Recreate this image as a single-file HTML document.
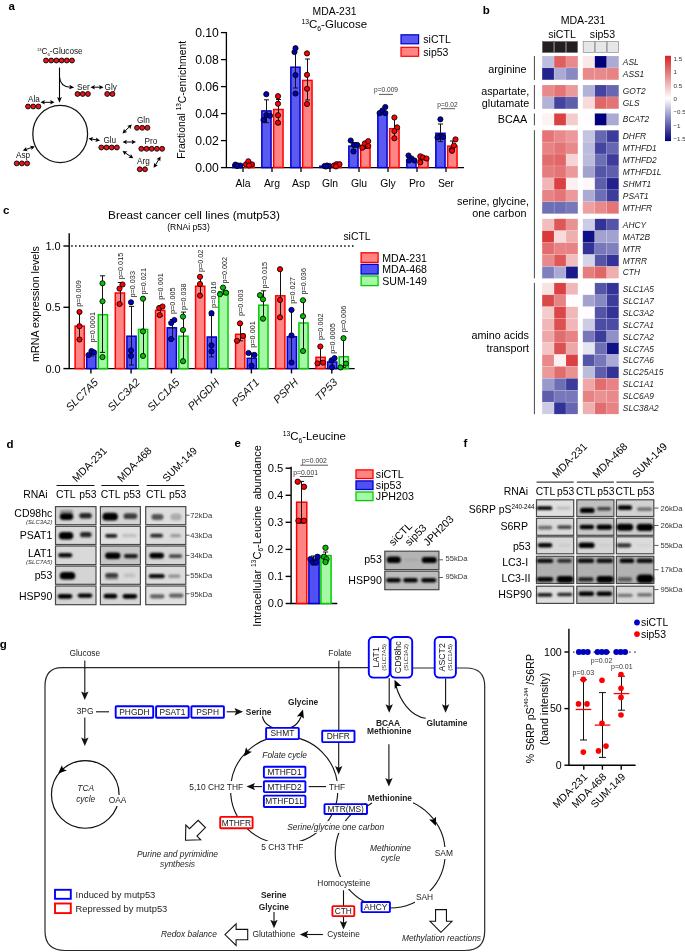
<!DOCTYPE html>
<html><head><meta charset="utf-8"><style>
html,body{margin:0;padding:0;background:#fff;width:685px;height:952px;overflow:hidden}
svg{display:block;will-change:transform}
text{font-family:"Liberation Sans",sans-serif}
</style></head><body>
<svg width="685" height="952" viewBox="0 0 685 952" font-family="Liberation Sans, sans-serif">
<defs><filter id="bl" x="-30%" y="-80%" width="160%" height="260%"><feGaussianBlur stdDeviation="0.95"/></filter></defs>
<text x="8.4" y="9.8" font-size="11.5" font-weight="bold">a</text><text x="37" y="54.2" font-size="8.2" fill="#111"><tspan font-size="4" dy="-3.4">13</tspan><tspan dy="3.4">C</tspan><tspan font-size="4.4" dy="2">6</tspan><tspan dy="-2">-Glucose</tspan></text><circle cx="46.00" cy="60.5" r="2.45" fill="#e8131b" stroke="#000" stroke-width="0.9"/><circle cx="51.20" cy="60.5" r="2.45" fill="#e8131b" stroke="#000" stroke-width="0.9"/><circle cx="56.40" cy="60.5" r="2.45" fill="#e8131b" stroke="#000" stroke-width="0.9"/><circle cx="61.60" cy="60.5" r="2.45" fill="#e8131b" stroke="#000" stroke-width="0.9"/><circle cx="66.80" cy="60.5" r="2.45" fill="#e8131b" stroke="#000" stroke-width="0.9"/><circle cx="72.00" cy="60.5" r="2.45" fill="#e8131b" stroke="#000" stroke-width="0.9"/><path d="M59.5 67.5 V99" stroke="#000" stroke-width="1.1" fill="none"/><path d="M59.50 102.80 L57.10 97.00 L59.50 98.16 L61.90 97.00Z" fill="#000"/><path d="M59.5 77 Q60 86.5 70.5 87.3" stroke="#000" stroke-width="1.1" fill="none"/><path d="M74.20 87.40 L69.02 89.26 L70.22 87.05 L69.42 84.67Z" fill="#000"/><text x="77.00" y="89.51" font-size="8.2" fill="#111">Ser</text><circle cx="77.50" cy="94" r="2.45" fill="#e8131b" stroke="#000" stroke-width="0.9"/><circle cx="82.70" cy="94" r="2.45" fill="#e8131b" stroke="#000" stroke-width="0.9"/><circle cx="87.90" cy="94" r="2.45" fill="#e8131b" stroke="#000" stroke-width="0.9"/><path d="M93.14 87.20 L100.86 87.20" stroke="#000" stroke-width="1.0"/><path d="M103.50 87.20 L99.10 89.50 L99.98 87.20 L99.10 84.90Z" fill="#000"/><path d="M90.50 87.20 L94.90 84.90 L94.02 87.20 L94.90 89.50Z" fill="#000"/><text x="104.60" y="89.51" font-size="8.2" fill="#111">Gly</text><circle cx="107.20" cy="94" r="2.45" fill="#e8131b" stroke="#000" stroke-width="0.9"/><circle cx="112.40" cy="94" r="2.45" fill="#e8131b" stroke="#000" stroke-width="0.9"/><text x="28.00" y="101.51" font-size="8.2" fill="#111">Ala</text><circle cx="28.00" cy="106.5" r="2.45" fill="#e8131b" stroke="#000" stroke-width="0.9"/><circle cx="33.20" cy="106.5" r="2.45" fill="#e8131b" stroke="#000" stroke-width="0.9"/><circle cx="38.40" cy="106.5" r="2.45" fill="#e8131b" stroke="#000" stroke-width="0.9"/><path d="M43.14 102.30 L51.86 102.30" stroke="#000" stroke-width="1.0"/><path d="M54.50 102.30 L50.10 104.60 L50.98 102.30 L50.10 100.00Z" fill="#000"/><path d="M40.50 102.30 L44.90 100.00 L44.02 102.30 L44.90 104.60Z" fill="#000"/><ellipse cx="60.2" cy="133.9" rx="27.4" ry="28.6" fill="none" stroke="#111" stroke-width="1.25"/><path d="M25.29 149.73 L32.31 147.27" stroke="#000" stroke-width="1.0"/><path d="M34.80 146.40 L31.41 150.02 L31.48 147.56 L29.89 145.68Z" fill="#000"/><path d="M22.80 150.60 L26.19 146.98 L26.12 149.44 L27.71 151.32Z" fill="#000"/><text x="16.00" y="157.51" font-size="8.2" fill="#111">Asp</text><circle cx="16.70" cy="163.4" r="2.45" fill="#e8131b" stroke="#000" stroke-width="0.9"/><circle cx="21.90" cy="163.4" r="2.45" fill="#e8131b" stroke="#000" stroke-width="0.9"/><circle cx="27.10" cy="163.4" r="2.45" fill="#e8131b" stroke="#000" stroke-width="0.9"/><path d="M91.10 138.95 L97.40 140.05" stroke="#000" stroke-width="1.0"/><path d="M100.00 140.50 L95.27 142.01 L96.53 139.90 L96.06 137.48Z" fill="#000"/><path d="M88.50 138.50 L93.23 136.99 L91.97 139.10 L92.44 141.52Z" fill="#000"/><text x="103.40" y="143.01" font-size="8.2" fill="#111">Glu</text><circle cx="101.30" cy="147.5" r="2.45" fill="#e8131b" stroke="#000" stroke-width="0.9"/><circle cx="106.50" cy="147.5" r="2.45" fill="#e8131b" stroke="#000" stroke-width="0.9"/><circle cx="111.70" cy="147.5" r="2.45" fill="#e8131b" stroke="#000" stroke-width="0.9"/><circle cx="116.90" cy="147.5" r="2.45" fill="#e8131b" stroke="#000" stroke-width="0.9"/><path d="M124.40 131.66 L129.90 126.34" stroke="#000" stroke-width="1.0"/><path d="M131.80 124.50 L130.24 129.21 L129.27 126.95 L127.04 125.91Z" fill="#000"/><path d="M122.50 133.50 L124.06 128.79 L125.03 131.05 L127.26 132.09Z" fill="#000"/><text x="137.00" y="122.91" font-size="8.2" fill="#111">Gln</text><circle cx="137.00" cy="127.8" r="2.45" fill="#e8131b" stroke="#000" stroke-width="0.9"/><circle cx="142.20" cy="127.8" r="2.45" fill="#e8131b" stroke="#000" stroke-width="0.9"/><circle cx="147.40" cy="127.8" r="2.45" fill="#e8131b" stroke="#000" stroke-width="0.9"/><path d="M125.14 142.00 L133.36 142.00" stroke="#000" stroke-width="1.0"/><path d="M136.00 142.00 L131.60 144.30 L132.48 142.00 L131.60 139.70Z" fill="#000"/><path d="M122.50 142.00 L126.90 139.70 L126.02 142.00 L126.90 144.30Z" fill="#000"/><text x="144.50" y="143.51" font-size="8.2" fill="#111">Pro</text><circle cx="141.30" cy="148.8" r="2.45" fill="#e8131b" stroke="#000" stroke-width="0.9"/><circle cx="146.50" cy="148.8" r="2.45" fill="#e8131b" stroke="#000" stroke-width="0.9"/><circle cx="151.70" cy="148.8" r="2.45" fill="#e8131b" stroke="#000" stroke-width="0.9"/><circle cx="156.90" cy="148.8" r="2.45" fill="#e8131b" stroke="#000" stroke-width="0.9"/><circle cx="162.10" cy="148.8" r="2.45" fill="#e8131b" stroke="#000" stroke-width="0.9"/><path d="M124.69 152.48 L131.11 156.82" stroke="#000" stroke-width="1.0"/><path d="M133.30 158.30 L128.37 157.74 L130.38 156.33 L130.94 153.93Z" fill="#000"/><path d="M122.50 151.00 L127.43 151.56 L125.42 152.97 L124.86 155.37Z" fill="#000"/><text x="137.00" y="163.71" font-size="8.2" fill="#111">Arg</text><circle cx="139.80" cy="169.3" r="2.45" fill="#e8131b" stroke="#000" stroke-width="0.9"/><circle cx="145.00" cy="169.3" r="2.45" fill="#e8131b" stroke="#000" stroke-width="0.9"/><path d="M155.08 165.55 L159.22 158.85" stroke="#000" stroke-width="1.0"/><path d="M160.60 156.60 L160.25 161.55 L158.75 159.60 L156.33 159.14Z" fill="#000"/><path d="M153.70 167.80 L154.05 162.85 L155.55 164.80 L157.97 165.26Z" fill="#000"/><path d="M226.4 32 V167.6 H464" stroke="#000" stroke-width="1.3" fill="none"/><path d="M220.9 167.6 H226.4" stroke="#000" stroke-width="1.3"/><text x="218.90" y="171.93" font-size="12.2" text-anchor="end">0.00</text><path d="M220.9 140.6 H226.4" stroke="#000" stroke-width="1.3"/><text x="218.90" y="144.93" font-size="12.2" text-anchor="end">0.02</text><path d="M220.9 113.6 H226.4" stroke="#000" stroke-width="1.3"/><text x="218.90" y="117.93" font-size="12.2" text-anchor="end">0.04</text><path d="M220.9 86.6 H226.4" stroke="#000" stroke-width="1.3"/><text x="218.90" y="90.93" font-size="12.2" text-anchor="end">0.06</text><path d="M220.9 59.6 H226.4" stroke="#000" stroke-width="1.3"/><text x="218.90" y="63.93" font-size="12.2" text-anchor="end">0.08</text><path d="M220.9 32.6 H226.4" stroke="#000" stroke-width="1.3"/><text x="218.90" y="36.93" font-size="12.2" text-anchor="end">0.10</text><path d="M243 167.6 V172.1" stroke="#000" stroke-width="1.3"/><text x="243.00" y="186.69" font-size="10.4" text-anchor="middle">Ala</text><path d="M272 167.6 V172.1" stroke="#000" stroke-width="1.3"/><text x="272.00" y="186.69" font-size="10.4" text-anchor="middle">Arg</text><path d="M301 167.6 V172.1" stroke="#000" stroke-width="1.3"/><text x="301.00" y="186.69" font-size="10.4" text-anchor="middle">Asp</text><path d="M330 167.6 V172.1" stroke="#000" stroke-width="1.3"/><text x="330.00" y="186.69" font-size="10.4" text-anchor="middle">Gln</text><path d="M359 167.6 V172.1" stroke="#000" stroke-width="1.3"/><text x="359.00" y="186.69" font-size="10.4" text-anchor="middle">Glu</text><path d="M388 167.6 V172.1" stroke="#000" stroke-width="1.3"/><text x="388.00" y="186.69" font-size="10.4" text-anchor="middle">Gly</text><path d="M417 167.6 V172.1" stroke="#000" stroke-width="1.3"/><text x="417.00" y="186.69" font-size="10.4" text-anchor="middle">Pro</text><path d="M446 167.6 V172.1" stroke="#000" stroke-width="1.3"/><text x="446.00" y="186.69" font-size="10.4" text-anchor="middle">Ser</text><rect x="232.85" y="164.9" width="9.2" height="2.7" fill="#5a5af0" stroke="#0000cc" stroke-width="1.5"/><rect x="244.65" y="163.5" width="9.4" height="4.1" fill="#ff8484" stroke="#ff0000" stroke-width="1.5"/><rect x="261.85" y="110.9" width="9.2" height="56.7" fill="#5a5af0" stroke="#0000cc" stroke-width="1.5"/><rect x="273.65" y="109.5" width="9.4" height="58.0" fill="#ff8484" stroke="#ff0000" stroke-width="1.5"/><rect x="290.85" y="67.2" width="9.2" height="100.4" fill="#5a5af0" stroke="#0000cc" stroke-width="1.5"/><rect x="302.65" y="80.4" width="9.4" height="87.2" fill="#ff8484" stroke="#ff0000" stroke-width="1.5"/><rect x="319.85" y="166.2" width="9.2" height="1.3" fill="#5a5af0" stroke="#0000cc" stroke-width="1.5"/><rect x="331.65" y="165.6" width="9.4" height="2.0" fill="#ff8484" stroke="#ff0000" stroke-width="1.5"/><rect x="348.85" y="146.1" width="9.2" height="21.5" fill="#5a5af0" stroke="#0000cc" stroke-width="1.5"/><rect x="360.65" y="145.3" width="9.4" height="22.3" fill="#ff8484" stroke="#ff0000" stroke-width="1.5"/><rect x="377.85" y="114.4" width="9.2" height="53.2" fill="#5a5af0" stroke="#0000cc" stroke-width="1.5"/><rect x="389.65" y="128.7" width="9.4" height="38.9" fill="#ff8484" stroke="#ff0000" stroke-width="1.5"/><rect x="406.85" y="160.2" width="9.2" height="7.4" fill="#5a5af0" stroke="#0000cc" stroke-width="1.5"/><rect x="418.65" y="159.1" width="9.4" height="8.5" fill="#ff8484" stroke="#ff0000" stroke-width="1.5"/><rect x="435.85" y="133.3" width="9.2" height="34.3" fill="#5a5af0" stroke="#0000cc" stroke-width="1.5"/><rect x="447.65" y="146.1" width="9.4" height="21.5" fill="#ff8484" stroke="#ff0000" stroke-width="1.5"/><path d="M266.5 99.8 V122.7 M264.0 99.8 H269.0 M264.0 122.7 H269.0" stroke="#111" stroke-width="1" fill="none"/><path d="M278.5 99.5 V124 M276.0 99.5 H281.0 M276.0 124 H281.0" stroke="#111" stroke-width="1" fill="none"/><path d="M295.5 48.5 V88 M293.0 48.5 H298.0 M293.0 88 H298.0" stroke="#111" stroke-width="1" fill="none"/><path d="M307.5 59 V100 M305.0 59 H310.0 M305.0 100 H310.0" stroke="#111" stroke-width="1" fill="none"/><path d="M394.5 117.5 V138.3 M392.0 117.5 H397.0 M392.0 138.3 H397.0" stroke="#111" stroke-width="1" fill="none"/><path d="M440.5 124 V141.6 M438.0 124 H443.0 M438.0 141.6 H443.0" stroke="#111" stroke-width="1" fill="none"/><path d="M452.5 141 V151 M450.0 141 H455.0 M450.0 151 H455.0" stroke="#111" stroke-width="1" fill="none"/><path d="M353.5 142.5 V149.5 M351.0 142.5 H356.0 M351.0 149.5 H356.0" stroke="#111" stroke-width="1" fill="none"/><path d="M365.5 142.5 V148.5 M363.0 142.5 H368.0 M363.0 148.5 H368.0" stroke="#111" stroke-width="1" fill="none"/><circle cx="235.4" cy="164.6" r="2.6" fill="#0000b4" stroke="#000" stroke-width="0.85"/><circle cx="238" cy="165.5" r="2.6" fill="#0000b4" stroke="#000" stroke-width="0.85"/><circle cx="240.5" cy="165.6" r="2.6" fill="#0000b4" stroke="#000" stroke-width="0.85"/><circle cx="237" cy="166" r="2.6" fill="#0000b4" stroke="#000" stroke-width="0.85"/><circle cx="266.3" cy="94.2" r="2.6" fill="#0000b4" stroke="#000" stroke-width="0.85"/><circle cx="263.5" cy="119.9" r="2.6" fill="#0000b4" stroke="#000" stroke-width="0.85"/><circle cx="266.3" cy="115" r="2.6" fill="#0000b4" stroke="#000" stroke-width="0.85"/><circle cx="270" cy="115.7" r="2.6" fill="#0000b4" stroke="#000" stroke-width="0.85"/><circle cx="294.5" cy="52" r="2.6" fill="#0000b4" stroke="#000" stroke-width="0.85"/><circle cx="295.5" cy="48.2" r="2.6" fill="#0000b4" stroke="#000" stroke-width="0.85"/><circle cx="295.5" cy="75.1" r="2.6" fill="#0000b4" stroke="#000" stroke-width="0.85"/><circle cx="295.5" cy="93.5" r="2.6" fill="#0000b4" stroke="#000" stroke-width="0.85"/><circle cx="324.5" cy="166" r="2.6" fill="#0000b4" stroke="#000" stroke-width="0.85"/><circle cx="327" cy="165.5" r="2.6" fill="#0000b4" stroke="#000" stroke-width="0.85"/><circle cx="329.5" cy="166" r="2.6" fill="#0000b4" stroke="#000" stroke-width="0.85"/><circle cx="326" cy="166.5" r="2.6" fill="#0000b4" stroke="#000" stroke-width="0.85"/><circle cx="350.7" cy="140.5" r="2.6" fill="#0000b4" stroke="#000" stroke-width="0.85"/><circle cx="353.9" cy="144.9" r="2.6" fill="#0000b4" stroke="#000" stroke-width="0.85"/><circle cx="357.2" cy="144.9" r="2.6" fill="#0000b4" stroke="#000" stroke-width="0.85"/><circle cx="353.5" cy="151.5" r="2.6" fill="#0000b4" stroke="#000" stroke-width="0.85"/><circle cx="379.6" cy="113.1" r="2.6" fill="#0000b4" stroke="#000" stroke-width="0.85"/><circle cx="382.4" cy="110.5" r="2.6" fill="#0000b4" stroke="#000" stroke-width="0.85"/><circle cx="385.3" cy="107" r="2.6" fill="#0000b4" stroke="#000" stroke-width="0.85"/><circle cx="385.3" cy="113.1" r="2.6" fill="#0000b4" stroke="#000" stroke-width="0.85"/><circle cx="408.5" cy="155.5" r="2.6" fill="#0000b4" stroke="#000" stroke-width="0.85"/><circle cx="411.5" cy="158.5" r="2.6" fill="#0000b4" stroke="#000" stroke-width="0.85"/><circle cx="414.5" cy="160.5" r="2.6" fill="#0000b4" stroke="#000" stroke-width="0.85"/><circle cx="409" cy="160.5" r="2.6" fill="#0000b4" stroke="#000" stroke-width="0.85"/><circle cx="440.4" cy="119.3" r="2.6" fill="#0000b4" stroke="#000" stroke-width="0.85"/><circle cx="440.4" cy="136.1" r="2.6" fill="#0000b4" stroke="#000" stroke-width="0.85"/><circle cx="443" cy="137" r="2.6" fill="#0000b4" stroke="#000" stroke-width="0.85"/><circle cx="437.5" cy="137.5" r="2.6" fill="#0000b4" stroke="#000" stroke-width="0.85"/><circle cx="246" cy="164.3" r="2.6" fill="#ff0000" stroke="#000" stroke-width="0.85"/><circle cx="248.3" cy="161.3" r="2.6" fill="#ff0000" stroke="#000" stroke-width="0.85"/><circle cx="251.8" cy="164.3" r="2.6" fill="#ff0000" stroke="#000" stroke-width="0.85"/><circle cx="249" cy="165.5" r="2.6" fill="#ff0000" stroke="#000" stroke-width="0.85"/><circle cx="278" cy="96.2" r="2.6" fill="#ff0000" stroke="#000" stroke-width="0.85"/><circle cx="278" cy="103.7" r="2.6" fill="#ff0000" stroke="#000" stroke-width="0.85"/><circle cx="278" cy="115.2" r="2.6" fill="#ff0000" stroke="#000" stroke-width="0.85"/><circle cx="278" cy="122.7" r="2.6" fill="#ff0000" stroke="#000" stroke-width="0.85"/><circle cx="307" cy="53.4" r="2.6" fill="#ff0000" stroke="#000" stroke-width="0.85"/><circle cx="307" cy="74.8" r="2.6" fill="#ff0000" stroke="#000" stroke-width="0.85"/><circle cx="307" cy="88.8" r="2.6" fill="#ff0000" stroke="#000" stroke-width="0.85"/><circle cx="307" cy="104" r="2.6" fill="#ff0000" stroke="#000" stroke-width="0.85"/><circle cx="334" cy="165.5" r="2.6" fill="#ff0000" stroke="#000" stroke-width="0.85"/><circle cx="336.5" cy="164.2" r="2.6" fill="#ff0000" stroke="#000" stroke-width="0.85"/><circle cx="339.5" cy="164.2" r="2.6" fill="#ff0000" stroke="#000" stroke-width="0.85"/><circle cx="336" cy="166.5" r="2.6" fill="#ff0000" stroke="#000" stroke-width="0.85"/><circle cx="362.3" cy="147.7" r="2.6" fill="#ff0000" stroke="#000" stroke-width="0.85"/><circle cx="364.9" cy="143.4" r="2.6" fill="#ff0000" stroke="#000" stroke-width="0.85"/><circle cx="368.2" cy="141.2" r="2.6" fill="#ff0000" stroke="#000" stroke-width="0.85"/><circle cx="368.2" cy="146" r="2.6" fill="#ff0000" stroke="#000" stroke-width="0.85"/><circle cx="394.4" cy="117.5" r="2.6" fill="#ff0000" stroke="#000" stroke-width="0.85"/><circle cx="397.1" cy="127.4" r="2.6" fill="#ff0000" stroke="#000" stroke-width="0.85"/><circle cx="394.4" cy="131.1" r="2.6" fill="#ff0000" stroke="#000" stroke-width="0.85"/><circle cx="394.4" cy="138.3" r="2.6" fill="#ff0000" stroke="#000" stroke-width="0.85"/><circle cx="420.3" cy="156.3" r="2.6" fill="#ff0000" stroke="#000" stroke-width="0.85"/><circle cx="423" cy="157.5" r="2.6" fill="#ff0000" stroke="#000" stroke-width="0.85"/><circle cx="426.5" cy="158.5" r="2.6" fill="#ff0000" stroke="#000" stroke-width="0.85"/><circle cx="420.3" cy="162.4" r="2.6" fill="#ff0000" stroke="#000" stroke-width="0.85"/><circle cx="452" cy="149.3" r="2.6" fill="#ff0000" stroke="#000" stroke-width="0.85"/><circle cx="454" cy="145.5" r="2.6" fill="#ff0000" stroke="#000" stroke-width="0.85"/><circle cx="455.5" cy="139.4" r="2.6" fill="#ff0000" stroke="#000" stroke-width="0.85"/><circle cx="452" cy="150.8" r="2.6" fill="#ff0000" stroke="#000" stroke-width="0.85"/><text x="386.00" y="91.94" font-size="6.6" text-anchor="middle" fill="#333">p=0.009</text><path d="M379 94.4 H393" stroke="#333" stroke-width="0.8"/><text x="447.50" y="106.64" font-size="6.6" text-anchor="middle" fill="#333">p=0.02</text><path d="M441 108.7 H455" stroke="#333" stroke-width="0.8"/><text x="334.50" y="14.89" font-size="10.4" text-anchor="middle">MDA-231</text><text x="334.3" y="28" font-size="11.5" text-anchor="middle"><tspan font-size="6.8" dy="-4.4">13</tspan><tspan dy="4.4">C</tspan><tspan font-size="6.8" dy="2.7">6</tspan><tspan dy="-2.7">-Glucose</tspan></text><rect x="401" y="34.8" width="17.6" height="9" fill="#5a5af0" stroke="#0000cc" stroke-width="1.2"/><rect x="401" y="47.3" width="17.6" height="9" fill="#ff8484" stroke="#ff0000" stroke-width="1.2"/><text x="423.30" y="43.13" font-size="10.5">siCTL</text><text x="423.30" y="55.53" font-size="10.5">sip53</text><text transform="translate(181.8,99.8) rotate(-90)" font-size="10.4" text-anchor="middle" dominant-baseline="central">Fractional <tspan font-size="6.4" dy="-3.8">13</tspan><tspan dy="3.8">C-enrichment</tspan></text><text x="482.7" y="14" font-size="11.5" font-weight="bold">b</text><text x="583.00" y="24.16" font-size="10.6" text-anchor="middle">MDA-231</text><text x="562.00" y="37.66" font-size="10.6" text-anchor="middle">siCTL</text><text x="602.50" y="37.66" font-size="10.6" text-anchor="middle">sip53</text><rect x="542.5" y="41.6" width="11.2" height="10.8" fill="#231f20" stroke="#555" stroke-width="0.6"/><rect x="583.1999999999999" y="41.6" width="11.2" height="10.8" fill="#e6e7e8" stroke="#8a8a8a" stroke-width="0.7"/><rect x="554.5" y="41.6" width="11.099999999999977" height="10.8" fill="#231f20" stroke="#555" stroke-width="0.6"/><rect x="595.1999999999999" y="41.6" width="11.2" height="10.8" fill="#e6e7e8" stroke="#8a8a8a" stroke-width="0.7"/><rect x="566.4" y="41.6" width="11.099999999999977" height="10.8" fill="#231f20" stroke="#555" stroke-width="0.6"/><rect x="607.1999999999999" y="41.6" width="11.2" height="10.8" fill="#e6e7e8" stroke="#8a8a8a" stroke-width="0.7"/><rect x="542.1" y="56.00" width="12.0" height="11.93" fill="rgb(190,190,222)" stroke="#fff" stroke-opacity="0.25" stroke-width="0.5"/><rect x="582.8" y="56.00" width="12.0" height="11.93" fill="rgb(251,233,233)" stroke="#fff" stroke-opacity="0.25" stroke-width="0.5"/><rect x="554.1" y="56.00" width="11.9" height="11.93" fill="rgb(223,94,96)" stroke="#fff" stroke-opacity="0.25" stroke-width="0.5"/><rect x="594.8" y="56.00" width="12.0" height="11.93" fill="rgb(0,0,125)" stroke="#fff" stroke-opacity="0.25" stroke-width="0.5"/><rect x="566.0" y="56.00" width="11.9" height="11.93" fill="rgb(232,138,139)" stroke="#fff" stroke-opacity="0.25" stroke-width="0.5"/><rect x="606.8" y="56.00" width="12.0" height="11.93" fill="rgb(170,170,212)" stroke="#fff" stroke-opacity="0.25" stroke-width="0.5"/><text x="622.80" y="64.95" font-size="8.4" font-style="italic" fill="#222">ASL</text><rect x="542.1" y="67.93" width="12.0" height="11.93" fill="rgb(34,34,142)" stroke="#fff" stroke-opacity="0.25" stroke-width="0.5"/><rect x="582.8" y="67.93" width="12.0" height="11.93" fill="rgb(232,138,139)" stroke="#fff" stroke-opacity="0.25" stroke-width="0.5"/><rect x="554.1" y="67.93" width="11.9" height="11.93" fill="rgb(170,170,212)" stroke="#fff" stroke-opacity="0.25" stroke-width="0.5"/><rect x="594.8" y="67.93" width="12.0" height="11.93" fill="rgb(232,138,139)" stroke="#fff" stroke-opacity="0.25" stroke-width="0.5"/><rect x="566.0" y="67.93" width="11.9" height="11.93" fill="rgb(136,136,194)" stroke="#fff" stroke-opacity="0.25" stroke-width="0.5"/><rect x="606.8" y="67.93" width="12.0" height="11.93" fill="rgb(231,131,132)" stroke="#fff" stroke-opacity="0.25" stroke-width="0.5"/><text x="622.80" y="76.88" font-size="8.4" font-style="italic" fill="#222">ASS1</text><rect x="542.1" y="85.00" width="12.0" height="11.93" fill="rgb(232,138,139)" stroke="#fff" stroke-opacity="0.25" stroke-width="0.5"/><rect x="582.8" y="85.00" width="12.0" height="11.93" fill="rgb(178,178,216)" stroke="#fff" stroke-opacity="0.25" stroke-width="0.5"/><rect x="554.1" y="85.00" width="11.9" height="11.93" fill="rgb(228,116,118)" stroke="#fff" stroke-opacity="0.25" stroke-width="0.5"/><rect x="594.8" y="85.00" width="12.0" height="11.93" fill="rgb(68,68,160)" stroke="#fff" stroke-opacity="0.25" stroke-width="0.5"/><rect x="566.0" y="85.00" width="11.9" height="11.93" fill="rgb(235,153,154)" stroke="#fff" stroke-opacity="0.25" stroke-width="0.5"/><rect x="606.8" y="85.00" width="12.0" height="11.93" fill="rgb(102,102,177)" stroke="#fff" stroke-opacity="0.25" stroke-width="0.5"/><text x="622.80" y="93.95" font-size="8.4" font-style="italic" fill="#222">GOT2</text><rect x="542.1" y="96.93" width="12.0" height="11.93" fill="rgb(178,178,216)" stroke="#fff" stroke-opacity="0.25" stroke-width="0.5"/><rect x="582.8" y="96.93" width="12.0" height="11.93" fill="rgb(248,218,219)" stroke="#fff" stroke-opacity="0.25" stroke-width="0.5"/><rect x="554.1" y="96.93" width="11.9" height="11.93" fill="rgb(68,68,160)" stroke="#fff" stroke-opacity="0.25" stroke-width="0.5"/><rect x="594.8" y="96.93" width="12.0" height="11.93" fill="rgb(225,102,103)" stroke="#fff" stroke-opacity="0.25" stroke-width="0.5"/><rect x="566.0" y="96.93" width="11.9" height="11.93" fill="rgb(94,94,173)" stroke="#fff" stroke-opacity="0.25" stroke-width="0.5"/><rect x="606.8" y="96.93" width="12.0" height="11.93" fill="rgb(228,116,118)" stroke="#fff" stroke-opacity="0.25" stroke-width="0.5"/><text x="622.80" y="105.88" font-size="8.4" font-style="italic" fill="#222">GLS</text><rect x="542.1" y="113.40" width="12.0" height="11.93" fill="rgb(253,243,243)" stroke="#fff" stroke-opacity="0.25" stroke-width="0.5"/><rect x="582.8" y="113.40" width="12.0" height="11.93" fill="rgb(254,252,252)" stroke="#fff" stroke-opacity="0.25" stroke-width="0.5"/><rect x="554.1" y="113.40" width="11.9" height="11.93" fill="rgb(218,65,67)" stroke="#fff" stroke-opacity="0.25" stroke-width="0.5"/><rect x="594.8" y="113.40" width="12.0" height="11.93" fill="rgb(0,0,125)" stroke="#fff" stroke-opacity="0.25" stroke-width="0.5"/><rect x="566.0" y="113.40" width="11.9" height="11.93" fill="rgb(245,204,204)" stroke="#fff" stroke-opacity="0.25" stroke-width="0.5"/><rect x="606.8" y="113.40" width="12.0" height="11.93" fill="rgb(170,170,212)" stroke="#fff" stroke-opacity="0.25" stroke-width="0.5"/><text x="622.80" y="122.35" font-size="8.4" font-style="italic" fill="#222">BCAT2</text><rect x="542.1" y="130.20" width="12.0" height="11.93" fill="rgb(228,116,118)" stroke="#fff" stroke-opacity="0.25" stroke-width="0.5"/><rect x="582.8" y="130.20" width="12.0" height="11.93" fill="rgb(196,196,225)" stroke="#fff" stroke-opacity="0.25" stroke-width="0.5"/><rect x="554.1" y="130.20" width="11.9" height="11.93" fill="rgb(232,138,139)" stroke="#fff" stroke-opacity="0.25" stroke-width="0.5"/><rect x="594.8" y="130.20" width="12.0" height="11.93" fill="rgb(102,102,177)" stroke="#fff" stroke-opacity="0.25" stroke-width="0.5"/><rect x="566.0" y="130.20" width="11.9" height="11.93" fill="rgb(235,153,154)" stroke="#fff" stroke-opacity="0.25" stroke-width="0.5"/><rect x="606.8" y="130.20" width="12.0" height="11.93" fill="rgb(60,60,155)" stroke="#fff" stroke-opacity="0.25" stroke-width="0.5"/><text x="622.80" y="139.15" font-size="8.4" font-style="italic" fill="#222">DHFR</text><rect x="542.1" y="142.13" width="12.0" height="11.93" fill="rgb(231,131,132)" stroke="#fff" stroke-opacity="0.25" stroke-width="0.5"/><rect x="582.8" y="142.13" width="12.0" height="11.93" fill="rgb(187,187,220)" stroke="#fff" stroke-opacity="0.25" stroke-width="0.5"/><rect x="554.1" y="142.13" width="11.9" height="11.93" fill="rgb(228,116,118)" stroke="#fff" stroke-opacity="0.25" stroke-width="0.5"/><rect x="594.8" y="142.13" width="12.0" height="11.93" fill="rgb(68,68,160)" stroke="#fff" stroke-opacity="0.25" stroke-width="0.5"/><rect x="566.0" y="142.13" width="11.9" height="11.93" fill="rgb(232,138,139)" stroke="#fff" stroke-opacity="0.25" stroke-width="0.5"/><rect x="606.8" y="142.13" width="12.0" height="11.93" fill="rgb(102,102,177)" stroke="#fff" stroke-opacity="0.25" stroke-width="0.5"/><text x="622.80" y="151.08" font-size="8.4" font-style="italic" fill="#222">MTHFD1</text><rect x="542.1" y="154.06" width="12.0" height="11.93" fill="rgb(226,109,110)" stroke="#fff" stroke-opacity="0.25" stroke-width="0.5"/><rect x="582.8" y="154.06" width="12.0" height="11.93" fill="rgb(187,187,220)" stroke="#fff" stroke-opacity="0.25" stroke-width="0.5"/><rect x="554.1" y="154.06" width="11.9" height="11.93" fill="rgb(225,102,103)" stroke="#fff" stroke-opacity="0.25" stroke-width="0.5"/><rect x="594.8" y="154.06" width="12.0" height="11.93" fill="rgb(110,110,181)" stroke="#fff" stroke-opacity="0.25" stroke-width="0.5"/><rect x="566.0" y="154.06" width="11.9" height="11.93" fill="rgb(246,211,212)" stroke="#fff" stroke-opacity="0.25" stroke-width="0.5"/><rect x="606.8" y="154.06" width="12.0" height="11.93" fill="rgb(60,60,155)" stroke="#fff" stroke-opacity="0.25" stroke-width="0.5"/><text x="622.80" y="163.01" font-size="8.4" font-style="italic" fill="#222">MTHFD2</text><rect x="542.1" y="165.99" width="12.0" height="11.93" fill="rgb(229,124,125)" stroke="#fff" stroke-opacity="0.25" stroke-width="0.5"/><rect x="582.8" y="165.99" width="12.0" height="11.93" fill="rgb(162,162,207)" stroke="#fff" stroke-opacity="0.25" stroke-width="0.5"/><rect x="554.1" y="165.99" width="11.9" height="11.93" fill="rgb(228,116,118)" stroke="#fff" stroke-opacity="0.25" stroke-width="0.5"/><rect x="594.8" y="165.99" width="12.0" height="11.93" fill="rgb(85,85,168)" stroke="#fff" stroke-opacity="0.25" stroke-width="0.5"/><rect x="566.0" y="165.99" width="11.9" height="11.93" fill="rgb(235,153,154)" stroke="#fff" stroke-opacity="0.25" stroke-width="0.5"/><rect x="606.8" y="165.99" width="12.0" height="11.93" fill="rgb(94,94,173)" stroke="#fff" stroke-opacity="0.25" stroke-width="0.5"/><text x="622.80" y="174.94" font-size="8.4" font-style="italic" fill="#222">MTHFD1L</text><rect x="542.1" y="177.92" width="12.0" height="11.93" fill="rgb(241,182,183)" stroke="#fff" stroke-opacity="0.25" stroke-width="0.5"/><rect x="582.8" y="177.92" width="12.0" height="11.93" fill="rgb(254,248,248)" stroke="#fff" stroke-opacity="0.25" stroke-width="0.5"/><rect x="554.1" y="177.92" width="11.9" height="11.93" fill="rgb(218,65,67)" stroke="#fff" stroke-opacity="0.25" stroke-width="0.5"/><rect x="594.8" y="177.92" width="12.0" height="11.93" fill="rgb(94,94,173)" stroke="#fff" stroke-opacity="0.25" stroke-width="0.5"/><rect x="566.0" y="177.92" width="11.9" height="11.93" fill="rgb(252,240,241)" stroke="#fff" stroke-opacity="0.25" stroke-width="0.5"/><rect x="606.8" y="177.92" width="12.0" height="11.93" fill="rgb(34,34,142)" stroke="#fff" stroke-opacity="0.25" stroke-width="0.5"/><text x="622.80" y="186.87" font-size="8.4" font-style="italic" fill="#222">SHMT1</text><rect x="542.1" y="189.85" width="12.0" height="11.93" fill="rgb(231,131,132)" stroke="#fff" stroke-opacity="0.25" stroke-width="0.5"/><rect x="582.8" y="189.85" width="12.0" height="11.93" fill="rgb(170,170,212)" stroke="#fff" stroke-opacity="0.25" stroke-width="0.5"/><rect x="554.1" y="189.85" width="11.9" height="11.93" fill="rgb(228,116,118)" stroke="#fff" stroke-opacity="0.25" stroke-width="0.5"/><rect x="594.8" y="189.85" width="12.0" height="11.93" fill="rgb(110,110,181)" stroke="#fff" stroke-opacity="0.25" stroke-width="0.5"/><rect x="566.0" y="189.85" width="11.9" height="11.93" fill="rgb(235,153,154)" stroke="#fff" stroke-opacity="0.25" stroke-width="0.5"/><rect x="606.8" y="189.85" width="12.0" height="11.93" fill="rgb(60,60,155)" stroke="#fff" stroke-opacity="0.25" stroke-width="0.5"/><text x="622.80" y="198.80" font-size="8.4" font-style="italic" fill="#222">PSAT1</text><rect x="542.1" y="201.78" width="12.0" height="11.93" fill="rgb(110,110,181)" stroke="#fff" stroke-opacity="0.25" stroke-width="0.5"/><rect x="582.8" y="201.78" width="12.0" height="11.93" fill="rgb(236,160,161)" stroke="#fff" stroke-opacity="0.25" stroke-width="0.5"/><rect x="554.1" y="201.78" width="11.9" height="11.93" fill="rgb(110,110,181)" stroke="#fff" stroke-opacity="0.25" stroke-width="0.5"/><rect x="594.8" y="201.78" width="12.0" height="11.93" fill="rgb(232,138,139)" stroke="#fff" stroke-opacity="0.25" stroke-width="0.5"/><rect x="566.0" y="201.78" width="11.9" height="11.93" fill="rgb(119,119,186)" stroke="#fff" stroke-opacity="0.25" stroke-width="0.5"/><rect x="606.8" y="201.78" width="12.0" height="11.93" fill="rgb(228,116,118)" stroke="#fff" stroke-opacity="0.25" stroke-width="0.5"/><text x="622.80" y="210.73" font-size="8.4" font-style="italic" fill="#222">MTHFR</text><rect x="542.1" y="218.80" width="12.0" height="11.93" fill="rgb(242,189,190)" stroke="#fff" stroke-opacity="0.25" stroke-width="0.5"/><rect x="582.8" y="218.80" width="12.0" height="11.93" fill="rgb(204,204,229)" stroke="#fff" stroke-opacity="0.25" stroke-width="0.5"/><rect x="554.1" y="218.80" width="11.9" height="11.93" fill="rgb(222,87,89)" stroke="#fff" stroke-opacity="0.25" stroke-width="0.5"/><rect x="594.8" y="218.80" width="12.0" height="11.93" fill="rgb(51,51,151)" stroke="#fff" stroke-opacity="0.25" stroke-width="0.5"/><rect x="566.0" y="218.80" width="11.9" height="11.93" fill="rgb(234,146,146)" stroke="#fff" stroke-opacity="0.25" stroke-width="0.5"/><rect x="606.8" y="218.80" width="12.0" height="11.93" fill="rgb(85,85,168)" stroke="#fff" stroke-opacity="0.25" stroke-width="0.5"/><text x="622.80" y="227.75" font-size="8.4" font-style="italic" fill="#222">AHCY</text><rect x="542.1" y="230.73" width="12.0" height="11.93" fill="rgb(216,58,60)" stroke="#fff" stroke-opacity="0.25" stroke-width="0.5"/><rect x="582.8" y="230.73" width="12.0" height="11.93" fill="rgb(17,17,134)" stroke="#fff" stroke-opacity="0.25" stroke-width="0.5"/><rect x="554.1" y="230.73" width="11.9" height="11.93" fill="rgb(248,218,219)" stroke="#fff" stroke-opacity="0.25" stroke-width="0.5"/><rect x="594.8" y="230.73" width="12.0" height="11.93" fill="rgb(162,162,207)" stroke="#fff" stroke-opacity="0.25" stroke-width="0.5"/><rect x="566.0" y="230.73" width="11.9" height="11.93" fill="rgb(239,175,175)" stroke="#fff" stroke-opacity="0.25" stroke-width="0.5"/><rect x="606.8" y="230.73" width="12.0" height="11.93" fill="rgb(162,162,207)" stroke="#fff" stroke-opacity="0.25" stroke-width="0.5"/><text x="622.80" y="239.68" font-size="8.4" font-style="italic" fill="#222">MAT2B</text><rect x="542.1" y="242.66" width="12.0" height="11.93" fill="rgb(226,109,110)" stroke="#fff" stroke-opacity="0.25" stroke-width="0.5"/><rect x="582.8" y="242.66" width="12.0" height="11.93" fill="rgb(51,51,151)" stroke="#fff" stroke-opacity="0.25" stroke-width="0.5"/><rect x="554.1" y="242.66" width="11.9" height="11.93" fill="rgb(231,131,132)" stroke="#fff" stroke-opacity="0.25" stroke-width="0.5"/><rect x="594.8" y="242.66" width="12.0" height="11.93" fill="rgb(119,119,186)" stroke="#fff" stroke-opacity="0.25" stroke-width="0.5"/><rect x="566.0" y="242.66" width="11.9" height="11.93" fill="rgb(231,131,132)" stroke="#fff" stroke-opacity="0.25" stroke-width="0.5"/><rect x="606.8" y="242.66" width="12.0" height="11.93" fill="rgb(128,128,190)" stroke="#fff" stroke-opacity="0.25" stroke-width="0.5"/><text x="622.80" y="251.61" font-size="8.4" font-style="italic" fill="#222">MTR</text><rect x="542.1" y="254.59" width="12.0" height="11.93" fill="rgb(232,138,139)" stroke="#fff" stroke-opacity="0.25" stroke-width="0.5"/><rect x="582.8" y="254.59" width="12.0" height="11.93" fill="rgb(212,212,233)" stroke="#fff" stroke-opacity="0.25" stroke-width="0.5"/><rect x="554.1" y="254.59" width="11.9" height="11.93" fill="rgb(222,87,89)" stroke="#fff" stroke-opacity="0.25" stroke-width="0.5"/><rect x="594.8" y="254.59" width="12.0" height="11.93" fill="rgb(85,85,168)" stroke="#fff" stroke-opacity="0.25" stroke-width="0.5"/><rect x="566.0" y="254.59" width="11.9" height="11.93" fill="rgb(242,189,190)" stroke="#fff" stroke-opacity="0.25" stroke-width="0.5"/><rect x="606.8" y="254.59" width="12.0" height="11.93" fill="rgb(51,51,151)" stroke="#fff" stroke-opacity="0.25" stroke-width="0.5"/><text x="622.80" y="263.54" font-size="8.4" font-style="italic" fill="#222">MTRR</text><rect x="542.1" y="266.52" width="12.0" height="11.93" fill="rgb(128,128,190)" stroke="#fff" stroke-opacity="0.25" stroke-width="0.5"/><rect x="582.8" y="266.52" width="12.0" height="11.93" fill="rgb(229,124,125)" stroke="#fff" stroke-opacity="0.25" stroke-width="0.5"/><rect x="554.1" y="266.52" width="11.9" height="11.93" fill="rgb(170,170,212)" stroke="#fff" stroke-opacity="0.25" stroke-width="0.5"/><rect x="594.8" y="266.52" width="12.0" height="11.93" fill="rgb(225,102,103)" stroke="#fff" stroke-opacity="0.25" stroke-width="0.5"/><rect x="566.0" y="266.52" width="11.9" height="11.93" fill="rgb(26,26,138)" stroke="#fff" stroke-opacity="0.25" stroke-width="0.5"/><rect x="606.8" y="266.52" width="12.0" height="11.93" fill="rgb(239,175,175)" stroke="#fff" stroke-opacity="0.25" stroke-width="0.5"/><text x="622.80" y="275.47" font-size="8.4" font-style="italic" fill="#222">CTH</text><rect x="542.1" y="282.90" width="12.0" height="11.93" fill="rgb(249,226,226)" stroke="#fff" stroke-opacity="0.25" stroke-width="0.5"/><rect x="582.8" y="282.90" width="12.0" height="11.93" fill="rgb(254,252,252)" stroke="#fff" stroke-opacity="0.25" stroke-width="0.5"/><rect x="554.1" y="282.90" width="11.9" height="11.93" fill="rgb(218,65,67)" stroke="#fff" stroke-opacity="0.25" stroke-width="0.5"/><rect x="594.8" y="282.90" width="12.0" height="11.93" fill="rgb(85,85,168)" stroke="#fff" stroke-opacity="0.25" stroke-width="0.5"/><rect x="566.0" y="282.90" width="11.9" height="11.93" fill="rgb(241,182,183)" stroke="#fff" stroke-opacity="0.25" stroke-width="0.5"/><rect x="606.8" y="282.90" width="12.0" height="11.93" fill="rgb(51,51,151)" stroke="#fff" stroke-opacity="0.25" stroke-width="0.5"/><text x="622.80" y="291.85" font-size="8.4" font-style="italic" fill="#222">SLC1A5</text><rect x="542.1" y="294.83" width="12.0" height="11.93" fill="rgb(219,72,74)" stroke="#fff" stroke-opacity="0.25" stroke-width="0.5"/><rect x="582.8" y="294.83" width="12.0" height="11.93" fill="rgb(162,162,207)" stroke="#fff" stroke-opacity="0.25" stroke-width="0.5"/><rect x="554.1" y="294.83" width="11.9" height="11.93" fill="rgb(231,131,132)" stroke="#fff" stroke-opacity="0.25" stroke-width="0.5"/><rect x="594.8" y="294.83" width="12.0" height="11.93" fill="rgb(136,136,194)" stroke="#fff" stroke-opacity="0.25" stroke-width="0.5"/><rect x="566.0" y="294.83" width="11.9" height="11.93" fill="rgb(254,252,252)" stroke="#fff" stroke-opacity="0.25" stroke-width="0.5"/><rect x="606.8" y="294.83" width="12.0" height="11.93" fill="rgb(60,60,155)" stroke="#fff" stroke-opacity="0.25" stroke-width="0.5"/><text x="622.80" y="303.78" font-size="8.4" font-style="italic" fill="#222">SLC1A7</text><rect x="542.1" y="306.76" width="12.0" height="11.93" fill="rgb(245,204,204)" stroke="#fff" stroke-opacity="0.25" stroke-width="0.5"/><rect x="582.8" y="306.76" width="12.0" height="11.93" fill="rgb(254,252,252)" stroke="#fff" stroke-opacity="0.25" stroke-width="0.5"/><rect x="554.1" y="306.76" width="11.9" height="11.93" fill="rgb(219,72,74)" stroke="#fff" stroke-opacity="0.25" stroke-width="0.5"/><rect x="594.8" y="306.76" width="12.0" height="11.93" fill="rgb(85,85,168)" stroke="#fff" stroke-opacity="0.25" stroke-width="0.5"/><rect x="566.0" y="306.76" width="11.9" height="11.93" fill="rgb(241,182,183)" stroke="#fff" stroke-opacity="0.25" stroke-width="0.5"/><rect x="606.8" y="306.76" width="12.0" height="11.93" fill="rgb(51,51,151)" stroke="#fff" stroke-opacity="0.25" stroke-width="0.5"/><text x="622.80" y="315.71" font-size="8.4" font-style="italic" fill="#222">SLC3A2</text><rect x="542.1" y="318.69" width="12.0" height="11.93" fill="rgb(241,182,183)" stroke="#fff" stroke-opacity="0.25" stroke-width="0.5"/><rect x="582.8" y="318.69" width="12.0" height="11.93" fill="rgb(204,204,229)" stroke="#fff" stroke-opacity="0.25" stroke-width="0.5"/><rect x="554.1" y="318.69" width="11.9" height="11.93" fill="rgb(221,80,81)" stroke="#fff" stroke-opacity="0.25" stroke-width="0.5"/><rect x="594.8" y="318.69" width="12.0" height="11.93" fill="rgb(76,76,164)" stroke="#fff" stroke-opacity="0.25" stroke-width="0.5"/><rect x="566.0" y="318.69" width="11.9" height="11.93" fill="rgb(241,182,183)" stroke="#fff" stroke-opacity="0.25" stroke-width="0.5"/><rect x="606.8" y="318.69" width="12.0" height="11.93" fill="rgb(76,76,164)" stroke="#fff" stroke-opacity="0.25" stroke-width="0.5"/><text x="622.80" y="327.64" font-size="8.4" font-style="italic" fill="#222">SLC7A1</text><rect x="542.1" y="330.62" width="12.0" height="11.93" fill="rgb(238,167,168)" stroke="#fff" stroke-opacity="0.25" stroke-width="0.5"/><rect x="582.8" y="330.62" width="12.0" height="11.93" fill="rgb(119,119,186)" stroke="#fff" stroke-opacity="0.25" stroke-width="0.5"/><rect x="554.1" y="330.62" width="11.9" height="11.93" fill="rgb(226,109,110)" stroke="#fff" stroke-opacity="0.25" stroke-width="0.5"/><rect x="594.8" y="330.62" width="12.0" height="11.93" fill="rgb(60,60,155)" stroke="#fff" stroke-opacity="0.25" stroke-width="0.5"/><rect x="566.0" y="330.62" width="11.9" height="11.93" fill="rgb(231,131,132)" stroke="#fff" stroke-opacity="0.25" stroke-width="0.5"/><rect x="606.8" y="330.62" width="12.0" height="11.93" fill="rgb(144,144,199)" stroke="#fff" stroke-opacity="0.25" stroke-width="0.5"/><text x="622.80" y="339.57" font-size="8.4" font-style="italic" fill="#222">SLC7A2</text><rect x="542.1" y="342.55" width="12.0" height="11.93" fill="rgb(244,197,197)" stroke="#fff" stroke-opacity="0.25" stroke-width="0.5"/><rect x="582.8" y="342.55" width="12.0" height="11.93" fill="rgb(230,230,242)" stroke="#fff" stroke-opacity="0.25" stroke-width="0.5"/><rect x="554.1" y="342.55" width="11.9" height="11.93" fill="rgb(221,80,81)" stroke="#fff" stroke-opacity="0.25" stroke-width="0.5"/><rect x="594.8" y="342.55" width="12.0" height="11.93" fill="rgb(110,110,181)" stroke="#fff" stroke-opacity="0.25" stroke-width="0.5"/><rect x="566.0" y="342.55" width="11.9" height="11.93" fill="rgb(238,167,168)" stroke="#fff" stroke-opacity="0.25" stroke-width="0.5"/><rect x="606.8" y="342.55" width="12.0" height="11.93" fill="rgb(17,17,134)" stroke="#fff" stroke-opacity="0.25" stroke-width="0.5"/><text x="622.80" y="351.50" font-size="8.4" font-style="italic" fill="#222">SLC7A5</text><rect x="542.1" y="354.48" width="12.0" height="11.93" fill="rgb(232,138,139)" stroke="#fff" stroke-opacity="0.25" stroke-width="0.5"/><rect x="582.8" y="354.48" width="12.0" height="11.93" fill="rgb(85,85,168)" stroke="#fff" stroke-opacity="0.25" stroke-width="0.5"/><rect x="554.1" y="354.48" width="11.9" height="11.93" fill="rgb(252,240,241)" stroke="#fff" stroke-opacity="0.25" stroke-width="0.5"/><rect x="594.8" y="354.48" width="12.0" height="11.93" fill="rgb(119,119,186)" stroke="#fff" stroke-opacity="0.25" stroke-width="0.5"/><rect x="566.0" y="354.48" width="11.9" height="11.93" fill="rgb(218,65,67)" stroke="#fff" stroke-opacity="0.25" stroke-width="0.5"/><rect x="606.8" y="354.48" width="12.0" height="11.93" fill="rgb(170,170,212)" stroke="#fff" stroke-opacity="0.25" stroke-width="0.5"/><text x="622.80" y="363.43" font-size="8.4" font-style="italic" fill="#222">SLC7A6</text><rect x="542.1" y="366.41" width="12.0" height="11.93" fill="rgb(235,153,154)" stroke="#fff" stroke-opacity="0.25" stroke-width="0.5"/><rect x="582.8" y="366.41" width="12.0" height="11.93" fill="rgb(187,187,220)" stroke="#fff" stroke-opacity="0.25" stroke-width="0.5"/><rect x="554.1" y="366.41" width="11.9" height="11.93" fill="rgb(226,109,110)" stroke="#fff" stroke-opacity="0.25" stroke-width="0.5"/><rect x="594.8" y="366.41" width="12.0" height="11.93" fill="rgb(94,94,173)" stroke="#fff" stroke-opacity="0.25" stroke-width="0.5"/><rect x="566.0" y="366.41" width="11.9" height="11.93" fill="rgb(234,146,146)" stroke="#fff" stroke-opacity="0.25" stroke-width="0.5"/><rect x="606.8" y="366.41" width="12.0" height="11.93" fill="rgb(51,51,151)" stroke="#fff" stroke-opacity="0.25" stroke-width="0.5"/><text x="622.80" y="375.36" font-size="8.4" font-style="italic" fill="#222">SLC25A15</text><rect x="542.1" y="378.34" width="12.0" height="11.93" fill="rgb(153,153,203)" stroke="#fff" stroke-opacity="0.25" stroke-width="0.5"/><rect x="582.8" y="378.34" width="12.0" height="11.93" fill="rgb(238,167,168)" stroke="#fff" stroke-opacity="0.25" stroke-width="0.5"/><rect x="554.1" y="378.34" width="11.9" height="11.93" fill="rgb(110,110,181)" stroke="#fff" stroke-opacity="0.25" stroke-width="0.5"/><rect x="594.8" y="378.34" width="12.0" height="11.93" fill="rgb(226,109,110)" stroke="#fff" stroke-opacity="0.25" stroke-width="0.5"/><rect x="566.0" y="378.34" width="11.9" height="11.93" fill="rgb(60,60,155)" stroke="#fff" stroke-opacity="0.25" stroke-width="0.5"/><rect x="606.8" y="378.34" width="12.0" height="11.93" fill="rgb(231,131,132)" stroke="#fff" stroke-opacity="0.25" stroke-width="0.5"/><text x="622.80" y="387.29" font-size="8.4" font-style="italic" fill="#222">SLC1A1</text><rect x="542.1" y="390.27" width="12.0" height="11.93" fill="rgb(94,94,173)" stroke="#fff" stroke-opacity="0.25" stroke-width="0.5"/><rect x="582.8" y="390.27" width="12.0" height="11.93" fill="rgb(231,131,132)" stroke="#fff" stroke-opacity="0.25" stroke-width="0.5"/><rect x="554.1" y="390.27" width="11.9" height="11.93" fill="rgb(119,119,186)" stroke="#fff" stroke-opacity="0.25" stroke-width="0.5"/><rect x="594.8" y="390.27" width="12.0" height="11.93" fill="rgb(234,146,146)" stroke="#fff" stroke-opacity="0.25" stroke-width="0.5"/><rect x="566.0" y="390.27" width="11.9" height="11.93" fill="rgb(119,119,186)" stroke="#fff" stroke-opacity="0.25" stroke-width="0.5"/><rect x="606.8" y="390.27" width="12.0" height="11.93" fill="rgb(232,138,139)" stroke="#fff" stroke-opacity="0.25" stroke-width="0.5"/><text x="622.80" y="399.22" font-size="8.4" font-style="italic" fill="#222">SLC6A9</text><rect x="542.1" y="402.20" width="12.0" height="11.93" fill="rgb(204,204,229)" stroke="#fff" stroke-opacity="0.25" stroke-width="0.5"/><rect x="582.8" y="402.20" width="12.0" height="11.93" fill="rgb(239,175,175)" stroke="#fff" stroke-opacity="0.25" stroke-width="0.5"/><rect x="554.1" y="402.20" width="11.9" height="11.93" fill="rgb(51,51,151)" stroke="#fff" stroke-opacity="0.25" stroke-width="0.5"/><rect x="594.8" y="402.20" width="12.0" height="11.93" fill="rgb(226,109,110)" stroke="#fff" stroke-opacity="0.25" stroke-width="0.5"/><rect x="566.0" y="402.20" width="11.9" height="11.93" fill="rgb(102,102,177)" stroke="#fff" stroke-opacity="0.25" stroke-width="0.5"/><rect x="606.8" y="402.20" width="12.0" height="11.93" fill="rgb(231,131,132)" stroke="#fff" stroke-opacity="0.25" stroke-width="0.5"/><text x="622.80" y="411.15" font-size="8.4" font-style="italic" fill="#222">SLC38A2</text><path d="M534.4 56 V80" stroke="#333" stroke-width="0.9"/><path d="M534.4 85 V109" stroke="#333" stroke-width="0.9"/><path d="M534.4 113.4 V125.3" stroke="#333" stroke-width="0.9"/><path d="M534.4 130.2 V278.3" stroke="#333" stroke-width="0.9"/><path d="M534.4 282.9 V414.2" stroke="#333" stroke-width="0.9"/><text x="526.60" y="73.33" font-size="10.8" text-anchor="end">arginine</text><text x="529.20" y="94.83" font-size="10.8" text-anchor="end">aspartate,</text><text x="529.20" y="107.43" font-size="10.8" text-anchor="end">glutamate</text><text x="527.10" y="123.13" font-size="10.8" text-anchor="end">BCAA</text><text x="529.00" y="205.33" font-size="10.8" text-anchor="end">serine, glycine,</text><text x="526.40" y="217.33" font-size="10.8" text-anchor="end">one carbon</text><text x="529.00" y="339.43" font-size="10.8" text-anchor="end">amino acids</text><text x="529.00" y="351.93" font-size="10.8" text-anchor="end">transport</text><defs><linearGradient id="cb" x1="0" y1="0" x2="0" y2="1"><stop offset="0" stop-color="rgb(212,36,38)"/><stop offset="0.5" stop-color="#fff"/><stop offset="1" stop-color="rgb(0,0,125)"/></linearGradient></defs><rect x="665" y="55.8" width="6" height="85.3" fill="url(#cb)"/><text x="673.50" y="60.90" font-size="6.2" fill="#333">1.5</text><text x="673.50" y="74.30" font-size="6.2" fill="#333">1</text><text x="673.50" y="87.60" font-size="6.2" fill="#333">0.5</text><text x="673.50" y="101.00" font-size="6.2" fill="#333">0</text><text x="673.50" y="114.40" font-size="6.2" fill="#333">−0.5</text><text x="673.50" y="127.90" font-size="6.2" fill="#333">−1</text><text x="673.50" y="141.20" font-size="6.2" fill="#333">−1.5</text><text x="3" y="213.5" font-size="11.5" font-weight="bold">c</text><text x="194.00" y="219.19" font-size="11.8" text-anchor="middle">Breast cancer cell lines (mutp53)</text><text x="188.50" y="230.25" font-size="8.6" text-anchor="middle">(RNAi p53)</text><text x="357.00" y="239.99" font-size="10.4" text-anchor="middle">siCTL</text><path d="M69.2 233.2 V368.6 H354.7" stroke="#000" stroke-width="1.4" fill="none"/><path d="M63.400000000000006 368.6 H69.2" stroke="#000" stroke-width="1.4"/><text x="60.70" y="372.50" font-size="11" text-anchor="end">0.0</text><path d="M63.400000000000006 307.3 H69.2" stroke="#000" stroke-width="1.4"/><text x="60.70" y="311.20" font-size="11" text-anchor="end">0.5</text><path d="M63.400000000000006 246.0 H69.2" stroke="#000" stroke-width="1.4"/><text x="60.70" y="249.91" font-size="11" text-anchor="end">1.0</text><path d="M71.2 246.0 H354" stroke="#000" stroke-width="1.4" stroke-dasharray="1.5 2.4"/><path d="M90.9 368.6 V373.40000000000003" stroke="#000" stroke-width="1.4"/><rect x="75.1" y="326.1" width="9.2" height="42.5" fill="#ff8484" stroke="#ff0000" stroke-width="1.5"/><rect x="86.7" y="354.3" width="9.2" height="14.3" fill="#5050f5" stroke="#0000cc" stroke-width="1.5"/><rect x="98.3" y="314.7" width="9.2" height="53.9" fill="#a6f7a6" stroke="#00cc00" stroke-width="1.5"/><text transform="translate(98.90,383.00) rotate(-45)" y="0.00" font-size="10.9" text-anchor="end" font-style="italic" fill="#111">SLC7A5</text><path d="M131.1 368.6 V373.40000000000003" stroke="#000" stroke-width="1.4"/><rect x="115.3" y="293.0" width="9.2" height="75.6" fill="#ff8484" stroke="#ff0000" stroke-width="1.5"/><rect x="126.9" y="336.2" width="9.2" height="32.4" fill="#5050f5" stroke="#0000cc" stroke-width="1.5"/><rect x="138.5" y="329.4" width="9.2" height="39.2" fill="#a6f7a6" stroke="#00cc00" stroke-width="1.5"/><text transform="translate(140.60,383.00) rotate(-45)" y="0.00" font-size="10.9" text-anchor="end" font-style="italic" fill="#111">SLC3A2</text><path d="M171.4 368.6 V373.40000000000003" stroke="#000" stroke-width="1.4"/><rect x="155.6" y="310.4" width="9.2" height="58.2" fill="#ff8484" stroke="#ff0000" stroke-width="1.5"/><rect x="167.2" y="327.8" width="9.2" height="40.8" fill="#5050f5" stroke="#0000cc" stroke-width="1.5"/><rect x="178.8" y="336.2" width="9.2" height="32.4" fill="#a6f7a6" stroke="#00cc00" stroke-width="1.5"/><text transform="translate(180.40,383.00) rotate(-45)" y="0.00" font-size="10.9" text-anchor="end" font-style="italic" fill="#111">SLC1A5</text><path d="M211.4 368.6 V373.40000000000003" stroke="#000" stroke-width="1.4"/><rect x="195.6" y="286.2" width="9.2" height="82.4" fill="#ff8484" stroke="#ff0000" stroke-width="1.5"/><rect x="207.2" y="337.0" width="9.2" height="31.6" fill="#5050f5" stroke="#0000cc" stroke-width="1.5"/><rect x="218.8" y="291.7" width="9.2" height="76.9" fill="#a6f7a6" stroke="#00cc00" stroke-width="1.5"/><text transform="translate(220.00,383.00) rotate(-45)" y="0.00" font-size="10.9" text-anchor="end" font-style="italic" fill="#111">PHGDH</text><path d="M251.4 368.6 V373.40000000000003" stroke="#000" stroke-width="1.4"/><rect x="235.6" y="334.3" width="9.2" height="34.3" fill="#ff8484" stroke="#ff0000" stroke-width="1.5"/><rect x="247.2" y="358.3" width="9.2" height="10.3" fill="#5050f5" stroke="#0000cc" stroke-width="1.5"/><rect x="258.8" y="305.2" width="9.2" height="63.4" fill="#a6f7a6" stroke="#00cc00" stroke-width="1.5"/><text transform="translate(260.00,383.00) rotate(-45)" y="0.00" font-size="10.9" text-anchor="end" font-style="italic" fill="#111">PSAT1</text><path d="M291.5 368.6 V373.40000000000003" stroke="#000" stroke-width="1.4"/><rect x="275.7" y="295.8" width="9.2" height="72.8" fill="#ff8484" stroke="#ff0000" stroke-width="1.5"/><rect x="287.3" y="336.7" width="9.2" height="31.9" fill="#5050f5" stroke="#0000cc" stroke-width="1.5"/><rect x="298.9" y="323.0" width="9.2" height="45.6" fill="#a6f7a6" stroke="#00cc00" stroke-width="1.5"/><text transform="translate(298.80,383.00) rotate(-45)" y="0.00" font-size="10.9" text-anchor="end" font-style="italic" fill="#111">PSPH</text><path d="M331.8 368.6 V373.40000000000003" stroke="#000" stroke-width="1.4"/><rect x="316.0" y="357.3" width="9.2" height="11.3" fill="#ff8484" stroke="#ff0000" stroke-width="1.5"/><rect x="327.6" y="362.0" width="9.2" height="6.6" fill="#5050f5" stroke="#0000cc" stroke-width="1.5"/><rect x="339.2" y="356.8" width="9.2" height="11.8" fill="#a6f7a6" stroke="#00cc00" stroke-width="1.5"/><text transform="translate(338.00,383.00) rotate(-45)" y="0.00" font-size="10.9" text-anchor="end" font-style="italic" fill="#111">TP53</text><path d="M79.5 312 V339.5 M76.9 312 H82.1 M76.9 339.5 H82.1" stroke="#111" stroke-width="1" fill="none"/><path d="M91.5 351 V356 M88.9 351 H94.1 M88.9 356 H94.1" stroke="#111" stroke-width="1" fill="none"/><path d="M102.5 275.8 V352.4 M99.9 275.8 H105.1 M99.9 352.4 H105.1" stroke="#111" stroke-width="1" fill="none"/><path d="M120.5 282.5 V304 M117.9 282.5 H123.1 M117.9 304 H123.1" stroke="#111" stroke-width="1" fill="none"/><path d="M131.5 306.4 V365.1 M128.9 306.4 H134.1 M128.9 365.1 H134.1" stroke="#111" stroke-width="1" fill="none"/><path d="M143.5 298.7 V355.9 M140.9 298.7 H146.1 M140.9 355.9 H146.1" stroke="#111" stroke-width="1" fill="none"/><path d="M160.5 306 V316 M157.9 306 H163.1 M157.9 316 H163.1" stroke="#111" stroke-width="1" fill="none"/><path d="M172.5 319.5 V339 M169.9 319.5 H175.1 M169.9 339 H175.1" stroke="#111" stroke-width="1" fill="none"/><path d="M183.5 312.1 V361.2 M180.9 312.1 H186.1 M180.9 361.2 H186.1" stroke="#111" stroke-width="1" fill="none"/><path d="M200.5 276.8 V295.6 M197.9 276.8 H203.1 M197.9 295.6 H203.1" stroke="#111" stroke-width="1" fill="none"/><path d="M211.5 315.6 V356.9 M208.9 315.6 H214.1 M208.9 356.9 H214.1" stroke="#111" stroke-width="1" fill="none"/><path d="M223.5 287.6 V294.2 M220.9 287.6 H226.1 M220.9 294.2 H226.1" stroke="#111" stroke-width="1" fill="none"/><path d="M240.5 323.4 V340.8 M237.9 323.4 H243.1 M237.9 340.8 H243.1" stroke="#111" stroke-width="1" fill="none"/><path d="M251.5 353 V365.7 M248.9 353 H254.1 M248.9 365.7 H254.1" stroke="#111" stroke-width="1" fill="none"/><path d="M263.5 290.8 V318.7 M260.9 290.8 H266.1 M260.9 318.7 H266.1" stroke="#111" stroke-width="1" fill="none"/><path d="M280.5 269.2 V317.3 M277.9 269.2 H283.1 M277.9 317.3 H283.1" stroke="#111" stroke-width="1" fill="none"/><path d="M291.5 309.9 V362.6 M288.9 309.9 H294.1 M288.9 362.6 H294.1" stroke="#111" stroke-width="1" fill="none"/><path d="M303.5 300.3 V351 M300.9 300.3 H306.1 M300.9 351 H306.1" stroke="#111" stroke-width="1" fill="none"/><path d="M320.5 346.5 V363.4 M317.9 346.5 H323.1 M317.9 363.4 H323.1" stroke="#111" stroke-width="1" fill="none"/><path d="M332.5 358.2 V367.2 M329.9 358.2 H335.1 M329.9 367.2 H335.1" stroke="#111" stroke-width="1" fill="none"/><path d="M343.5 338.2 V367.4 M340.9 338.2 H346.1 M340.9 367.4 H346.1" stroke="#111" stroke-width="1" fill="none"/><circle cx="79.5" cy="312" r="2.6" fill="#ff0000" stroke="#000" stroke-width="0.85"/><circle cx="79.5" cy="326.2" r="2.6" fill="#ff0000" stroke="#000" stroke-width="0.85"/><circle cx="79.5" cy="339.5" r="2.6" fill="#ff0000" stroke="#000" stroke-width="0.85"/><circle cx="119.5" cy="288.6" r="2.6" fill="#ff0000" stroke="#000" stroke-width="0.85"/><circle cx="122.5" cy="284.5" r="2.6" fill="#ff0000" stroke="#000" stroke-width="0.85"/><circle cx="119.5" cy="304" r="2.6" fill="#ff0000" stroke="#000" stroke-width="0.85"/><circle cx="159.7" cy="315.1" r="2.6" fill="#ff0000" stroke="#000" stroke-width="0.85"/><circle cx="159.2" cy="308" r="2.6" fill="#ff0000" stroke="#000" stroke-width="0.85"/><circle cx="162.5" cy="306.5" r="2.6" fill="#ff0000" stroke="#000" stroke-width="0.85"/><circle cx="200" cy="276.8" r="2.6" fill="#ff0000" stroke="#000" stroke-width="0.85"/><circle cx="200" cy="284" r="2.6" fill="#ff0000" stroke="#000" stroke-width="0.85"/><circle cx="200" cy="295.6" r="2.6" fill="#ff0000" stroke="#000" stroke-width="0.85"/><circle cx="240" cy="323.4" r="2.6" fill="#ff0000" stroke="#000" stroke-width="0.85"/><circle cx="237" cy="340.8" r="2.6" fill="#ff0000" stroke="#000" stroke-width="0.85"/><circle cx="243" cy="336" r="2.6" fill="#ff0000" stroke="#000" stroke-width="0.85"/><circle cx="280" cy="269.2" r="2.6" fill="#ff0000" stroke="#000" stroke-width="0.85"/><circle cx="280" cy="299.9" r="2.6" fill="#ff0000" stroke="#000" stroke-width="0.85"/><circle cx="280" cy="317.3" r="2.6" fill="#ff0000" stroke="#000" stroke-width="0.85"/><circle cx="317.5" cy="363.4" r="2.6" fill="#ff0000" stroke="#000" stroke-width="0.85"/><circle cx="323" cy="362.6" r="2.6" fill="#ff0000" stroke="#000" stroke-width="0.85"/><circle cx="320.3" cy="346.5" r="2.6" fill="#ff0000" stroke="#000" stroke-width="0.85"/><circle cx="88.5" cy="355" r="2.6" fill="#0000cc" stroke="#000" stroke-width="0.85"/><circle cx="91.5" cy="351" r="2.6" fill="#0000cc" stroke="#000" stroke-width="0.85"/><circle cx="94" cy="352.4" r="2.6" fill="#0000cc" stroke="#000" stroke-width="0.85"/><circle cx="131" cy="302.3" r="2.6" fill="#0000cc" stroke="#000" stroke-width="0.85"/><circle cx="131" cy="350.4" r="2.6" fill="#0000cc" stroke="#000" stroke-width="0.85"/><circle cx="131" cy="355.9" r="2.6" fill="#0000cc" stroke="#000" stroke-width="0.85"/><circle cx="171" cy="339.1" r="2.6" fill="#0000cc" stroke="#000" stroke-width="0.85"/><circle cx="171.2" cy="323" r="2.6" fill="#0000cc" stroke="#000" stroke-width="0.85"/><circle cx="174.3" cy="320" r="2.6" fill="#0000cc" stroke="#000" stroke-width="0.85"/><circle cx="211.5" cy="313.2" r="2.6" fill="#0000cc" stroke="#000" stroke-width="0.85"/><circle cx="211.5" cy="345.3" r="2.6" fill="#0000cc" stroke="#000" stroke-width="0.85"/><circle cx="211.5" cy="351.4" r="2.6" fill="#0000cc" stroke="#000" stroke-width="0.85"/><circle cx="248.5" cy="353" r="2.6" fill="#0000cc" stroke="#000" stroke-width="0.85"/><circle cx="254.5" cy="354.9" r="2.6" fill="#0000cc" stroke="#000" stroke-width="0.85"/><circle cx="251.5" cy="365.7" r="2.6" fill="#0000cc" stroke="#000" stroke-width="0.85"/><circle cx="291.5" cy="309.9" r="2.6" fill="#0000cc" stroke="#000" stroke-width="0.85"/><circle cx="291.5" cy="335.4" r="2.6" fill="#0000cc" stroke="#000" stroke-width="0.85"/><circle cx="291.5" cy="362.6" r="2.6" fill="#0000cc" stroke="#000" stroke-width="0.85"/><circle cx="331.5" cy="360.5" r="2.6" fill="#0000cc" stroke="#000" stroke-width="0.85"/><circle cx="334.5" cy="358.2" r="2.6" fill="#0000cc" stroke="#000" stroke-width="0.85"/><circle cx="332" cy="367.2" r="2.6" fill="#0000cc" stroke="#000" stroke-width="0.85"/><circle cx="102.5" cy="283.3" r="2.6" fill="#00c000" stroke="#000" stroke-width="0.85"/><circle cx="102.5" cy="301.3" r="2.6" fill="#00c000" stroke="#000" stroke-width="0.85"/><circle cx="102.5" cy="357.1" r="2.6" fill="#00c000" stroke="#000" stroke-width="0.85"/><circle cx="143" cy="298.7" r="2.6" fill="#00c000" stroke="#000" stroke-width="0.85"/><circle cx="143" cy="331.4" r="2.6" fill="#00c000" stroke="#000" stroke-width="0.85"/><circle cx="143" cy="355.9" r="2.6" fill="#00c000" stroke="#000" stroke-width="0.85"/><circle cx="183" cy="316.6" r="2.6" fill="#00c000" stroke="#000" stroke-width="0.85"/><circle cx="183" cy="330" r="2.6" fill="#00c000" stroke="#000" stroke-width="0.85"/><circle cx="183" cy="361.2" r="2.6" fill="#00c000" stroke="#000" stroke-width="0.85"/><circle cx="220" cy="294.2" r="2.6" fill="#00c000" stroke="#000" stroke-width="0.85"/><circle cx="223" cy="287.6" r="2.6" fill="#00c000" stroke="#000" stroke-width="0.85"/><circle cx="226" cy="292.7" r="2.6" fill="#00c000" stroke="#000" stroke-width="0.85"/><circle cx="260" cy="295.2" r="2.6" fill="#00c000" stroke="#000" stroke-width="0.85"/><circle cx="263" cy="299.3" r="2.6" fill="#00c000" stroke="#000" stroke-width="0.85"/><circle cx="263" cy="318.7" r="2.6" fill="#00c000" stroke="#000" stroke-width="0.85"/><circle cx="303" cy="300.3" r="2.6" fill="#00c000" stroke="#000" stroke-width="0.85"/><circle cx="303" cy="316.2" r="2.6" fill="#00c000" stroke="#000" stroke-width="0.85"/><circle cx="303" cy="351" r="2.6" fill="#00c000" stroke="#000" stroke-width="0.85"/><circle cx="343.5" cy="338.2" r="2.6" fill="#00c000" stroke="#000" stroke-width="0.85"/><circle cx="346" cy="363.6" r="2.6" fill="#00c000" stroke="#000" stroke-width="0.85"/><circle cx="340.5" cy="367.4" r="2.6" fill="#00c000" stroke="#000" stroke-width="0.85"/><text transform="translate(78.70,306.80) rotate(-90)" y="2.59" font-size="7.3" fill="#222">p=0.009</text><text transform="translate(92.00,342.60) rotate(-90)" y="2.59" font-size="7.3" fill="#222">p=0.0001</text><text transform="translate(120.30,279.30) rotate(-90)" y="2.59" font-size="7.3" fill="#222">p=0.015</text><text transform="translate(132.30,297.60) rotate(-90)" y="2.59" font-size="7.3" fill="#222">p=0.033</text><text transform="translate(143.80,294.60) rotate(-90)" y="2.59" font-size="7.3" fill="#222">p=0.021</text><text transform="translate(160.30,299.70) rotate(-90)" y="2.59" font-size="7.3" fill="#222">p=0.001</text><text transform="translate(172.30,314.00) rotate(-90)" y="2.59" font-size="7.3" fill="#222">p=0.005</text><text transform="translate(183.80,309.90) rotate(-90)" y="2.59" font-size="7.3" fill="#222">p=0.038</text><text transform="translate(200.30,272.10) rotate(-90)" y="2.59" font-size="7.3" fill="#222">p=0.02</text><text transform="translate(213.30,307.90) rotate(-90)" y="2.59" font-size="7.3" fill="#222">p=0.016</text><text transform="translate(224.30,283.40) rotate(-90)" y="2.59" font-size="7.3" fill="#222">p=0.002</text><text transform="translate(240.30,316.00) rotate(-90)" y="2.59" font-size="7.3" fill="#222">p=0.003</text><text transform="translate(252.30,347.70) rotate(-90)" y="2.59" font-size="7.3" fill="#222">p=0.001</text><text transform="translate(264.30,288.40) rotate(-90)" y="2.59" font-size="7.3" fill="#222">p=0.015</text><text transform="translate(292.30,303.80) rotate(-90)" y="2.59" font-size="7.3" fill="#222">p=0.027</text><text transform="translate(303.30,294.60) rotate(-90)" y="2.59" font-size="7.3" fill="#222">p=0.036</text><text transform="translate(320.20,340.00) rotate(-90)" y="2.59" font-size="7.3" fill="#222">p=0.002</text><text transform="translate(332.50,353.80) rotate(-90)" y="2.59" font-size="7.3" fill="#222">p=0.0005</text><text transform="translate(343.20,332.30) rotate(-90)" y="2.59" font-size="7.3" fill="#222">p=0.006</text><rect x="361.1" y="252.8" width="17" height="9.6" fill="#ff8484" stroke="#ff0000" stroke-width="1.3"/><text x="382.20" y="261.76" font-size="10.6">MDA-231</text><rect x="361.1" y="264.4" width="17" height="9.6" fill="#5050f5" stroke="#0000cc" stroke-width="1.3"/><text x="382.20" y="273.36" font-size="10.6">MDA-468</text><rect x="361.1" y="276.0" width="17" height="9.6" fill="#a6f7a6" stroke="#00cc00" stroke-width="1.3"/><text x="382.20" y="284.96" font-size="10.6">SUM-149</text><text transform="translate(35.40,304.00) rotate(-90)" y="3.80" font-size="10.7" text-anchor="middle">mRNA expression levels</text><text x="6.6" y="448.1" font-size="11.5" font-weight="bold">d</text><path d="M56.5 485.5 H94.5" stroke="#111" stroke-width="1"/><text transform="translate(76.50,482.40) rotate(-45)" y="0.00" font-size="10.4">MDA-231</text><text x="55.90" y="498.19" font-size="10.4">CTL</text><text x="96.50" y="498.19" font-size="10.4" text-anchor="end">p53</text><path d="M101.4 485.5 H138.9" stroke="#111" stroke-width="1"/><text transform="translate(121.40,482.40) rotate(-45)" y="0.00" font-size="10.4">MDA-468</text><text x="100.80" y="498.19" font-size="10.4">CTL</text><text x="140.90" y="498.19" font-size="10.4" text-anchor="end">p53</text><path d="M146.7 485.5 H184.3" stroke="#111" stroke-width="1"/><text transform="translate(166.70,482.40) rotate(-45)" y="0.00" font-size="10.4">SUM-149</text><text x="146.10" y="498.19" font-size="10.4">CTL</text><text x="186.30" y="498.19" font-size="10.4" text-anchor="end">p53</text><text x="47.60" y="498.19" font-size="10.4" text-anchor="end">RNAi</text><rect x="55.5" y="506.6" width="40.5" height="18.1" fill="#d6d6d6" stroke="#4a4a4a" stroke-width="1.2"/><rect x="59.7" y="513.2" width="13.6" height="6.7" rx="3.4" fill="#000" fill-opacity="0.999" filter="url(#bl)"/><rect x="59.7" y="509.8" width="13.6" height="4.7" rx="2.4" fill="#000" fill-opacity="0.309" filter="url(#bl)"/><rect x="79.2" y="512.9" width="12.6" height="5.5" rx="2.8" fill="#000" fill-opacity="0.824" filter="url(#bl)"/><rect x="100.4" y="506.6" width="40.0" height="18.1" fill="#d3d3d3" stroke="#4a4a4a" stroke-width="1.2"/><rect x="102.4" y="512.8" width="15.5" height="7.7" rx="3.9" fill="#000" fill-opacity="0.999" filter="url(#bl)"/><rect x="123.6" y="513.3" width="13.6" height="5.7" rx="2.9" fill="#000" fill-opacity="0.721" filter="url(#bl)"/><rect x="145.7" y="506.6" width="40.1" height="18.1" fill="#dedede" stroke="#4a4a4a" stroke-width="1.2"/><rect x="151.4" y="513.9" width="12.1" height="6.1" rx="3.1" fill="#000" fill-opacity="0.618" filter="url(#bl)"/><rect x="170.4" y="513.6" width="11.1" height="6.7" rx="3.4" fill="#000" fill-opacity="0.227" filter="url(#bl)"/><rect x="55.5" y="526.3" width="40.5" height="18.2" fill="#d8d8d8" stroke="#4a4a4a" stroke-width="1.2"/><rect x="58.8" y="532.1" width="14.5" height="7.5" rx="3.8" fill="#000" fill-opacity="1.000" filter="url(#bl)"/><rect x="80.0" y="532.1" width="11.6" height="5.1" rx="2.6" fill="#000" fill-opacity="0.824" filter="url(#bl)"/><rect x="100.4" y="526.3" width="40.0" height="18.2" fill="#e0e0e0" stroke="#4a4a4a" stroke-width="1.2"/><rect x="105.1" y="534.0" width="12.2" height="3.7" rx="1.9" fill="#000" fill-opacity="0.875" filter="url(#bl)"/><rect x="122.1" y="534.1" width="14.6" height="3.1" rx="1.5" fill="#000" fill-opacity="0.154" filter="url(#bl)"/><rect x="145.7" y="526.3" width="40.1" height="18.2" fill="#dcdcdc" stroke="#4a4a4a" stroke-width="1.2"/><rect x="150.2" y="533.8" width="12.8" height="3.7" rx="1.9" fill="#000" fill-opacity="0.824" filter="url(#bl)"/><rect x="170.2" y="534.1" width="10.6" height="3.1" rx="1.5" fill="#000" fill-opacity="0.309" filter="url(#bl)"/><rect x="55.5" y="546.0" width="40.5" height="18.6" fill="#d9d9d9" stroke="#4a4a4a" stroke-width="1.2"/><rect x="58.2" y="552.9" width="14.1" height="4.7" rx="2.4" fill="#000" fill-opacity="0.948" filter="url(#bl)"/><rect x="100.4" y="546.0" width="40.0" height="18.6" fill="#c6c6c6" stroke="#4a4a4a" stroke-width="1.2"/><rect x="105.1" y="552.6" width="15.3" height="6.3" rx="3.1" fill="#000" fill-opacity="1.000" filter="url(#bl)"/><rect x="123.9" y="553.9" width="14.0" height="4.3" rx="2.1" fill="#000" fill-opacity="0.875" filter="url(#bl)"/><rect x="145.7" y="546.0" width="40.1" height="18.6" fill="#d6d6d6" stroke="#4a4a4a" stroke-width="1.2"/><rect x="149.4" y="552.7" width="14.6" height="5.7" rx="2.9" fill="#000" fill-opacity="1.000" filter="url(#bl)"/><rect x="168.8" y="554.2" width="13.4" height="3.7" rx="1.9" fill="#000" fill-opacity="0.670" filter="url(#bl)"/><rect x="55.5" y="566.1" width="40.5" height="18.2" fill="#d4d4d4" stroke="#4a4a4a" stroke-width="1.2"/><rect x="59.7" y="571.9" width="15.6" height="7.7" rx="3.9" fill="#000" fill-opacity="1.000" filter="url(#bl)"/><rect x="100.4" y="566.1" width="40.0" height="18.2" fill="#dadada" stroke="#4a4a4a" stroke-width="1.2"/><rect x="105.1" y="573.1" width="13.1" height="4.7" rx="2.4" fill="#000" fill-opacity="0.721" filter="url(#bl)"/><rect x="105.1" y="576.4" width="13.1" height="3.7" rx="1.9" fill="#000" fill-opacity="0.258" filter="url(#bl)"/><rect x="123.6" y="573.6" width="11.6" height="3.7" rx="1.9" fill="#000" fill-opacity="0.124" filter="url(#bl)"/><rect x="145.7" y="566.1" width="40.1" height="18.2" fill="#dcdcdc" stroke="#4a4a4a" stroke-width="1.2"/><rect x="148.7" y="574.1" width="16.0" height="4.2" rx="2.1" fill="#000" fill-opacity="0.948" filter="url(#bl)"/><rect x="168.2" y="574.6" width="12.0" height="3.2" rx="1.6" fill="#000" fill-opacity="0.360" filter="url(#bl)"/><rect x="55.5" y="586.0" width="40.5" height="18.7" fill="#d4d4d4" stroke="#4a4a4a" stroke-width="1.2"/><rect x="57.7" y="594.0" width="14.6" height="4.7" rx="2.4" fill="#000" fill-opacity="0.999" filter="url(#bl)"/><rect x="77.7" y="593.5" width="14.6" height="4.2" rx="2.1" fill="#000" fill-opacity="0.999" filter="url(#bl)"/><rect x="100.4" y="586.0" width="40.0" height="18.7" fill="#d6d6d6" stroke="#4a4a4a" stroke-width="1.2"/><rect x="103.6" y="593.8" width="13.6" height="4.7" rx="2.4" fill="#000" fill-opacity="0.999" filter="url(#bl)"/><rect x="122.6" y="594.0" width="14.6" height="4.7" rx="2.4" fill="#000" fill-opacity="0.999" filter="url(#bl)"/><rect x="145.7" y="586.0" width="40.1" height="18.7" fill="#e0e0e0" stroke="#4a4a4a" stroke-width="1.2"/><rect x="149.9" y="594.2" width="14.6" height="4.2" rx="2.1" fill="#000" fill-opacity="0.567" filter="url(#bl)"/><rect x="168.9" y="593.5" width="14.6" height="4.2" rx="2.1" fill="#000" fill-opacity="0.567" filter="url(#bl)"/><text x="52.30" y="516.63" font-size="10.5" text-anchor="end">CD98hc</text><text x="52.30" y="539.43" font-size="10.5" text-anchor="end">PSAT1</text><text x="52.30" y="556.53" font-size="10.5" text-anchor="end">LAT1</text><text x="52.30" y="579.43" font-size="10.5" text-anchor="end">p53</text><text x="52.30" y="599.93" font-size="10.5" text-anchor="end">HSP90</text><text x="52.40" y="524.23" font-size="6" text-anchor="end" font-style="italic" fill="#333">(SLC3A2)</text><text x="52.40" y="563.93" font-size="6" text-anchor="end" font-style="italic" fill="#333">(SLC7A5)</text><path d="M186 515.2 H189.5" stroke="#333" stroke-width="0.8"/><text x="190.30" y="517.90" font-size="7.6" fill="#333">72kDa</text><path d="M186 535.2 H189.5" stroke="#333" stroke-width="0.8"/><text x="190.30" y="537.90" font-size="7.6" fill="#333">43kDa</text><path d="M186 555.4 H189.5" stroke="#333" stroke-width="0.8"/><text x="190.30" y="558.10" font-size="7.6" fill="#333">34kDa</text><path d="M186 575.2 H189.5" stroke="#333" stroke-width="0.8"/><text x="190.30" y="577.90" font-size="7.6" fill="#333">55kDa</text><path d="M186 593.8 H189.5" stroke="#333" stroke-width="0.8"/><text x="190.30" y="596.50" font-size="7.6" fill="#333">95kDa</text><text x="234.5" y="446.9" font-size="11.5" font-weight="bold">e</text><text x="314.3" y="440.2" font-size="11.4" text-anchor="middle"><tspan font-size="6.8" dy="-4.3">13</tspan><tspan dy="4.3">C</tspan><tspan font-size="6.8" dy="2.7">6</tspan><tspan dy="-2.7">-Leucine</tspan></text><path d="M291.1 466.8 V603.5 H337.3" stroke="#000" stroke-width="1.4" fill="none"/><path d="M285.6 603.5 H291.1" stroke="#000" stroke-width="1.4"/><text x="283.30" y="607.48" font-size="11.2" text-anchor="end">0.0</text><path d="M285.6 576.4 H291.1" stroke="#000" stroke-width="1.4"/><text x="283.30" y="580.42" font-size="11.2" text-anchor="end">0.1</text><path d="M285.6 549.4 H291.1" stroke="#000" stroke-width="1.4"/><text x="283.30" y="553.36" font-size="11.2" text-anchor="end">0.2</text><path d="M285.6 522.3 H291.1" stroke="#000" stroke-width="1.4"/><text x="283.30" y="526.30" font-size="11.2" text-anchor="end">0.3</text><path d="M285.6 495.3 H291.1" stroke="#000" stroke-width="1.4"/><text x="283.30" y="499.24" font-size="11.2" text-anchor="end">0.4</text><path d="M285.6 468.2 H291.1" stroke="#000" stroke-width="1.4"/><text x="283.30" y="472.18" font-size="11.2" text-anchor="end">0.5</text><rect x="296.6" y="502.2" width="10.2" height="101.3" fill="#ff8484" stroke="#ff0000" stroke-width="1.5"/><rect x="308.9" y="559.1" width="10.2" height="44.4" fill="#5050f5" stroke="#0000cc" stroke-width="1.5"/><rect x="320.9" y="555.6" width="10.2" height="47.9" fill="#a6f7a6" stroke="#00cc00" stroke-width="1.5"/><path d="M301.5 481.4 V523.1 M298.9 481.4 H304.1 M298.9 523.1 H304.1" stroke="#111" stroke-width="1" fill="none"/><path d="M313.5 556 V562 M310.9 556 H316.1 M310.9 562 H316.1" stroke="#111" stroke-width="1" fill="none"/><path d="M325.5 552 V561 M322.9 552 H328.1 M322.9 561 H328.1" stroke="#111" stroke-width="1" fill="none"/><circle cx="297.7" cy="481.7" r="2.7" fill="#ff0000" stroke="#000" stroke-width="0.85"/><circle cx="304" cy="486.8" r="2.7" fill="#ff0000" stroke="#000" stroke-width="0.85"/><circle cx="298.5" cy="520.8" r="2.7" fill="#ff0000" stroke="#000" stroke-width="0.85"/><circle cx="304" cy="520.8" r="2.7" fill="#ff0000" stroke="#000" stroke-width="0.85"/><circle cx="310.5" cy="559.1" r="2.7" fill="#0000cc" stroke="#000" stroke-width="0.85"/><circle cx="313" cy="562.6" r="2.7" fill="#0000cc" stroke="#000" stroke-width="0.85"/><circle cx="316" cy="562.6" r="2.7" fill="#0000cc" stroke="#000" stroke-width="0.85"/><circle cx="317.5" cy="556.8" r="2.7" fill="#0000cc" stroke="#000" stroke-width="0.85"/><circle cx="325.5" cy="547.8" r="2.7" fill="#00c000" stroke="#000" stroke-width="0.85"/><circle cx="324" cy="556.8" r="2.7" fill="#00c000" stroke="#000" stroke-width="0.85"/><circle cx="326.5" cy="559.1" r="2.7" fill="#00c000" stroke="#000" stroke-width="0.85"/><circle cx="325.5" cy="562" r="2.7" fill="#00c000" stroke="#000" stroke-width="0.85"/><text x="305.60" y="474.61" font-size="6.8" text-anchor="middle" fill="#333">p=0.001</text><path d="M299.8 476.5 H313.4" stroke="#333" stroke-width="0.8"/><text x="314.40" y="463.01" font-size="6.8" text-anchor="middle" fill="#333">p=0.002</text><path d="M300.4 465.2 H328" stroke="#333" stroke-width="0.8"/><text transform="translate(257,536) rotate(-90)" font-size="11" text-anchor="middle" dominant-baseline="central">Intracellular <tspan font-size="6.6" dy="-4">13</tspan><tspan dy="4">C</tspan><tspan font-size="6.6" dy="2.6">6</tspan><tspan dy="-2.6">-Leucine&#160; abundance</tspan></text><rect x="356" y="469.9" width="17" height="8.6" fill="#ff8484" stroke="#ff0000" stroke-width="1.3"/><text x="375.80" y="478.10" font-size="10.7">siCTL</text><rect x="356" y="480.9" width="17" height="8.6" fill="#5050f5" stroke="#0000cc" stroke-width="1.3"/><text x="375.80" y="489.15" font-size="10.7">sip53</text><rect x="356" y="492.0" width="17" height="8.6" fill="#a6f7a6" stroke="#00cc00" stroke-width="1.3"/><text x="375.80" y="500.20" font-size="10.7">JPH203</text><rect x="384.8" y="551.2" width="54.1" height="18.4" fill="#b4b4b4" stroke="#4a4a4a" stroke-width="1.2"/><rect x="384.8" y="571.2" width="54.1" height="18.5" fill="#bcbcbc" stroke="#4a4a4a" stroke-width="1.2"/><rect x="386.7" y="556.4" width="14.1" height="6.7" rx="3.4" fill="#000" fill-opacity="1.000" filter="url(#bl)"/><rect x="403.7" y="558.2" width="14.6" height="3.2" rx="1.6" fill="#000" fill-opacity="0.062" filter="url(#bl)"/><rect x="421.7" y="556.9" width="15.1" height="6.2" rx="3.1" fill="#000" fill-opacity="1.000" filter="url(#bl)"/><rect x="386.2" y="577.9" width="14.6" height="4.7" rx="2.4" fill="#000" fill-opacity="0.978" filter="url(#bl)"/><rect x="403.2" y="577.9" width="14.6" height="4.7" rx="2.4" fill="#000" fill-opacity="0.978" filter="url(#bl)"/><rect x="421.2" y="577.9" width="15.1" height="4.7" rx="2.4" fill="#000" fill-opacity="0.978" filter="url(#bl)"/><text x="381.90" y="563.26" font-size="10.6" text-anchor="end">p53</text><text x="381.90" y="583.76" font-size="10.6" text-anchor="end">HSP90</text><text transform="translate(393.30,546.40) rotate(-45)" y="0.00" font-size="10.6">siCTL</text><text transform="translate(409.30,546.40) rotate(-45)" y="0.00" font-size="10.6">sip53</text><text transform="translate(427.80,546.40) rotate(-45)" y="0.00" font-size="10.6">JPH203</text><path d="M439 559.8 H443" stroke="#333" stroke-width="0.8"/><text x="445.60" y="561.20" font-size="7.6" fill="#333">55kDa</text><path d="M439 577.5 H443" stroke="#333" stroke-width="0.8"/><text x="445.60" y="579.00" font-size="7.6" fill="#333">95kDa</text><text x="463.6" y="446.7" font-size="11.5" font-weight="bold">f</text><path d="M536.5 482.1 H573.7" stroke="#111" stroke-width="1"/><text transform="translate(556.50,478.40) rotate(-45)" y="0.00" font-size="10.5">MDA-231</text><text x="535.70" y="495.46" font-size="10.3">CTL</text><text x="574.30" y="495.46" font-size="10.3" text-anchor="end">p53</text><path d="M576.8 482.1 H613.9" stroke="#111" stroke-width="1"/><text transform="translate(596.80,478.40) rotate(-45)" y="0.00" font-size="10.5">MDA-468</text><text x="576.00" y="495.46" font-size="10.3">CTL</text><text x="614.50" y="495.46" font-size="10.3" text-anchor="end">p53</text><path d="M616.4 482.1 H653.8" stroke="#111" stroke-width="1"/><text transform="translate(636.40,478.40) rotate(-45)" y="0.00" font-size="10.5">SUM-149</text><text x="615.60" y="495.46" font-size="10.3">CTL</text><text x="654.40" y="495.46" font-size="10.3" text-anchor="end">p53</text><text x="528.10" y="495.49" font-size="10.4" text-anchor="end">RNAi</text><rect x="536.5" y="499.8" width="37.2" height="16.7" fill="#e0e0e0" stroke="#4a4a4a" stroke-width="1.2"/><rect x="536.7" y="506.2" width="15.6" height="3.9" rx="2.0" fill="#000" fill-opacity="0.978" filter="url(#bl)"/><rect x="556.2" y="506.5" width="14.6" height="3.2" rx="1.6" fill="#000" fill-opacity="0.154" filter="url(#bl)"/><rect x="576.8" y="499.8" width="37.1" height="16.7" fill="#c0c0c0" stroke="#4a4a4a" stroke-width="1.2"/><rect x="580.0" y="507.8" width="14.6" height="5.2" rx="2.6" fill="#000" fill-opacity="0.999" filter="url(#bl)"/><rect x="597.0" y="506.9" width="14.1" height="3.5" rx="1.8" fill="#000" fill-opacity="0.670" filter="url(#bl)"/><rect x="616.4" y="499.8" width="37.4" height="16.7" fill="#d2d2d2" stroke="#4a4a4a" stroke-width="1.2"/><rect x="617.6" y="505.2" width="14.6" height="4.9" rx="2.5" fill="#000" fill-opacity="0.978" filter="url(#bl)"/><rect x="637.1" y="507.3" width="15.1" height="3.7" rx="1.9" fill="#000" fill-opacity="0.464" filter="url(#bl)"/><rect x="536.5" y="518.3" width="37.2" height="17.0" fill="#dadada" stroke="#4a4a4a" stroke-width="1.2"/><rect x="537.7" y="525.7" width="14.6" height="3.7" rx="1.9" fill="#000" fill-opacity="0.515" filter="url(#bl)"/><rect x="557.2" y="525.2" width="14.6" height="3.7" rx="1.9" fill="#000" fill-opacity="0.670" filter="url(#bl)"/><rect x="576.8" y="518.3" width="37.1" height="17.0" fill="#c8c8c8" stroke="#4a4a4a" stroke-width="1.2"/><rect x="579.5" y="524.8" width="14.6" height="4.5" rx="2.2" fill="#000" fill-opacity="0.999" filter="url(#bl)"/><rect x="596.5" y="524.5" width="15.6" height="5.2" rx="2.6" fill="#000" fill-opacity="0.999" filter="url(#bl)"/><rect x="616.4" y="518.3" width="37.4" height="17.0" fill="#cacaca" stroke="#4a4a4a" stroke-width="1.2"/><rect x="616.6" y="523.8" width="16.6" height="6.9" rx="3.5" fill="#000" fill-opacity="1.000" filter="url(#bl)"/><rect x="636.6" y="523.7" width="16.6" height="7.2" rx="3.6" fill="#000" fill-opacity="1.000" filter="url(#bl)"/><rect x="536.5" y="536.8" width="37.2" height="17.0" fill="#d8d8d8" stroke="#4a4a4a" stroke-width="1.2"/><rect x="537.7" y="542.9" width="14.6" height="4.7" rx="2.4" fill="#000" fill-opacity="0.978" filter="url(#bl)"/><rect x="558.2" y="543.9" width="12.6" height="2.7" rx="1.4" fill="#000" fill-opacity="0.072" filter="url(#bl)"/><rect x="576.8" y="536.8" width="37.1" height="17.0" fill="#d6d6d6" stroke="#4a4a4a" stroke-width="1.2"/><rect x="578.5" y="542.4" width="16.1" height="5.7" rx="2.9" fill="#000" fill-opacity="1.000" filter="url(#bl)"/><rect x="598.5" y="543.9" width="12.6" height="2.7" rx="1.4" fill="#000" fill-opacity="0.052" filter="url(#bl)"/><rect x="616.4" y="536.8" width="37.4" height="17.0" fill="#dcdcdc" stroke="#4a4a4a" stroke-width="1.2"/><rect x="616.6" y="543.2" width="14.6" height="4.2" rx="2.1" fill="#000" fill-opacity="0.772" filter="url(#bl)"/><rect x="637.1" y="543.9" width="13.6" height="2.7" rx="1.4" fill="#000" fill-opacity="0.052" filter="url(#bl)"/><rect x="536.5" y="556.3" width="37.2" height="27.2" fill="#b0b0b0" stroke="#4a4a4a" stroke-width="1.2"/><rect x="536.7" y="558.8" width="16.6" height="4.2" rx="2.1" fill="#000" fill-opacity="0.927" filter="url(#bl)"/><rect x="557.2" y="559.0" width="14.6" height="3.7" rx="1.9" fill="#000" fill-opacity="0.772" filter="url(#bl)"/><rect x="536.7" y="577.0" width="16.6" height="4.7" rx="2.4" fill="#000" fill-opacity="0.978" filter="url(#bl)"/><rect x="556.7" y="576.0" width="16.6" height="6.7" rx="3.4" fill="#000" fill-opacity="1.000" filter="url(#bl)"/><rect x="576.8" y="556.3" width="37.1" height="27.2" fill="#b0b0b0" stroke="#4a4a4a" stroke-width="1.2"/><rect x="577.5" y="558.6" width="16.6" height="4.5" rx="2.2" fill="#000" fill-opacity="0.927" filter="url(#bl)"/><rect x="596.5" y="558.6" width="16.6" height="4.5" rx="2.2" fill="#000" fill-opacity="0.906" filter="url(#bl)"/><rect x="578.0" y="577.3" width="15.6" height="4.2" rx="2.1" fill="#000" fill-opacity="0.824" filter="url(#bl)"/><rect x="596.5" y="575.9" width="17.1" height="6.9" rx="3.5" fill="#000" fill-opacity="1.000" filter="url(#bl)"/><rect x="616.4" y="556.3" width="37.4" height="27.2" fill="#b2b2b2" stroke="#4a4a4a" stroke-width="1.2"/><rect x="619.6" y="558.6" width="14.6" height="4.5" rx="2.2" fill="#000" fill-opacity="0.978" filter="url(#bl)"/><rect x="636.6" y="558.6" width="16.6" height="4.5" rx="2.2" fill="#000" fill-opacity="0.927" filter="url(#bl)"/><rect x="617.6" y="577.3" width="14.6" height="4.2" rx="2.1" fill="#000" fill-opacity="0.515" filter="url(#bl)"/><rect x="636.6" y="574.6" width="17.1" height="8.5" rx="4.2" fill="#000" fill-opacity="1.000" filter="url(#bl)"/><rect x="536.5" y="586.2" width="37.2" height="17.2" fill="#dedede" stroke="#4a4a4a" stroke-width="1.2"/><rect x="537.2" y="593.1" width="15.1" height="3.7" rx="1.9" fill="#000" fill-opacity="0.875" filter="url(#bl)"/><rect x="557.2" y="592.8" width="15.1" height="3.5" rx="1.8" fill="#000" fill-opacity="0.824" filter="url(#bl)"/><rect x="576.8" y="586.2" width="37.1" height="17.2" fill="#c4c4c4" stroke="#4a4a4a" stroke-width="1.2"/><rect x="578.5" y="591.5" width="15.6" height="4.5" rx="2.2" fill="#000" fill-opacity="1.000" filter="url(#bl)"/><rect x="596.5" y="591.5" width="15.6" height="4.5" rx="2.2" fill="#000" fill-opacity="1.000" filter="url(#bl)"/><rect x="616.4" y="586.2" width="37.4" height="17.2" fill="#d8d8d8" stroke="#4a4a4a" stroke-width="1.2"/><rect x="617.1" y="593.7" width="15.6" height="3.2" rx="1.6" fill="#000" fill-opacity="0.464" filter="url(#bl)"/><rect x="637.1" y="593.2" width="15.1" height="3.2" rx="1.6" fill="#000" fill-opacity="0.515" filter="url(#bl)"/><text x="534.5" y="512.7" font-size="10.4" text-anchor="end">S6RP pS<tspan font-size="6.3" dy="-4">240-244</tspan></text><text x="528.10" y="530.26" font-size="10.6" text-anchor="end">S6RP</text><text x="530.60" y="549.66" font-size="10.6" text-anchor="end">p53</text><text x="528.10" y="565.76" font-size="10.6" text-anchor="end">LC3-I</text><text x="530.40" y="582.26" font-size="10.6" text-anchor="end">LC3-II</text><text x="531.80" y="598.06" font-size="10.6" text-anchor="end">HSP90</text><path d="M654.3 508.1 H658.5" stroke="#333" stroke-width="0.8"/><text x="660.60" y="510.80" font-size="7.6" fill="#333">26kDa</text><path d="M654.3 525.5 H658.5" stroke="#333" stroke-width="0.8"/><text x="660.60" y="528.20" font-size="7.6" fill="#333">26kDa</text><path d="M654.3 545.4 H658.5" stroke="#333" stroke-width="0.8"/><text x="660.60" y="548.10" font-size="7.6" fill="#333">55kDa</text><path d="M654.3 569.7 H658.5" stroke="#333" stroke-width="0.8"/><text x="660.60" y="572.40" font-size="7.6" fill="#333">17kDa</text><path d="M654.3 589.6 H658.5" stroke="#333" stroke-width="0.8"/><text x="660.60" y="592.30" font-size="7.6" fill="#333">95kDa</text><text x="-0.3" y="648" font-size="11.5" font-weight="bold">g</text><path d="M62 667.6 H368.8 M412.2 668 H434.7 M455.9 668 H466 Q484.7 668 484.7 686 V931 Q484.7 950.5 465 950.5 H65 Q45 950.5 45 931 V686 Q45 667.6 62 667.6" fill="none" stroke="#2a2a2a" stroke-width="1.2"/><text x="84.80" y="656.28" font-size="8.4" text-anchor="middle" fill="#222">Glucose</text><path d="M84.80 660.50 L84.80 694.90" stroke="#111" stroke-width="1.1" fill="none"/><path d="M84.80 700.00 L81.10 691.50 L84.80 693.20 L88.50 691.50Z" fill="#111"/><text x="85.10" y="714.38" font-size="8.4" text-anchor="middle" fill="#222">3PG</text><path d="M96 711.8 H109" stroke="#111" stroke-width="1.1"/><path d="M84.80 717.50 L84.80 740.90" stroke="#111" stroke-width="1.1" fill="none"/><path d="M84.80 746.00 L81.10 737.50 L84.80 739.20 L88.50 737.50Z" fill="#111"/><rect x="115.7" y="706.3" width="37.5" height="11.5" rx="0.8" fill="#fff" stroke="#0000ff" stroke-width="1.9"/><text x="134.40" y="715.03" font-size="8.4" text-anchor="middle" fill="#151515">PHGDH</text><rect x="156.1" y="706.3" width="32.6" height="11.5" rx="0.8" fill="#fff" stroke="#0000ff" stroke-width="1.9"/><text x="172.35" y="715.03" font-size="8.4" text-anchor="middle" fill="#151515">PSAT1</text><rect x="191.4" y="706.3" width="32.5" height="11.5" rx="0.8" fill="#fff" stroke="#0000ff" stroke-width="1.9"/><text x="207.60" y="715.03" font-size="8.4" text-anchor="middle" fill="#151515">PSPH</text><path d="M226.60 711.80 L237.90 711.80" stroke="#111" stroke-width="1.1" fill="none"/><path d="M243.00 711.80 L234.50 715.50 L236.20 711.80 L234.50 708.10Z" fill="#111"/><text x="245.80" y="714.68" font-size="8.4" font-weight="bold" fill="#222">Serine</text><text x="303.10" y="705.28" font-size="8.4" text-anchor="middle" font-weight="bold" fill="#222">Glycine</text><path d="M262.4 716.3 C264 726 276 730 283 729.5 C292 729 299 724 302 714" stroke="#111" stroke-width="1.1" fill="none"/><path d="M303.00 709.50 L303.89 718.73 L300.90 715.97 L296.85 716.44Z" fill="#000"/><circle cx="284.2" cy="790" r="53.6" fill="none" stroke="#111" stroke-width="1.1"/><path d="M243.90 756.40 L246.02 747.37 L247.97 750.95 L251.95 751.80Z" fill="#000"/><rect x="266.1" y="727.9" width="32.7" height="11.2" rx="0.8" fill="#fff" stroke="#0000ff" stroke-width="1.9"/><text x="282.40" y="736.48" font-size="8.4" text-anchor="middle" fill="#151515">SHMT</text><rect x="322.2" y="730.7" width="32.3" height="11.4" rx="0.8" fill="#fff" stroke="#0000ff" stroke-width="1.9"/><text x="338.30" y="739.38" font-size="8.4" text-anchor="middle" fill="#151515">DHFR</text><text x="284.70" y="757.98" font-size="8.4" text-anchor="middle" font-style="italic" fill="#222">Folate cycle</text><rect x="263.9" y="766.7" width="41.5" height="10.9" rx="0.8" fill="#fff" stroke="#0000ff" stroke-width="1.9"/><text x="284.60" y="775.13" font-size="8.4" text-anchor="middle" fill="#151515">MTHFD1</text><rect x="263.9" y="781.2" width="41.5" height="10.9" rx="0.8" fill="#fff" stroke="#0000ff" stroke-width="1.9"/><text x="284.60" y="789.63" font-size="8.4" text-anchor="middle" fill="#151515">MTHFD2</text><rect x="263.9" y="795.6" width="41.5" height="11.4" rx="0.8" fill="#fff" stroke="#0000ff" stroke-width="1.9"/><text x="284.60" y="804.28" font-size="8.4" text-anchor="middle" fill="#151515">MTHFD1L</text><rect x="188" y="781" width="56" height="12" fill="#fff"/><text x="216.20" y="789.98" font-size="8.4" text-anchor="middle" fill="#222">5,10 CH2 THF</text><path d="M262.00 786.60 L251.60 786.60" stroke="#111" stroke-width="1.1" fill="none"/><path d="M246.50 786.60 L255.00 782.90 L253.30 786.60 L255.00 790.30Z" fill="#111"/><path d="M308.7 786.6 H326" stroke="#111" stroke-width="1.1"/><rect x="327.5" y="781" width="19" height="12" fill="#fff"/><text x="337.10" y="790.18" font-size="8.4" text-anchor="middle" fill="#222">THF</text><rect x="220.2" y="816.9" width="32.4" height="11.4" rx="0.8" fill="#fff" stroke="#ff0000" stroke-width="1.9"/><text x="236.35" y="825.58" font-size="8.4" text-anchor="middle" fill="#151515">MTHFR</text><rect x="259" y="841" width="47" height="12" fill="#fff"/><text x="282.40" y="849.58" font-size="8.4" text-anchor="middle" fill="#222">5 CH3 THF</text><text x="340.00" y="656.38" font-size="8.4" text-anchor="middle" fill="#222">Folate</text><path d="M338.8 660.7 V730.5" stroke="#111" stroke-width="1.1"/><path d="M338.70 742.30 L338.70 769.40" stroke="#111" stroke-width="1.1" fill="none"/><path d="M338.70 774.50 L335.00 766.00 L338.70 767.70 L342.40 766.00Z" fill="#111"/><rect x="368.8" y="637.0" width="20.9" height="40.6" rx="4.5" fill="#fff" stroke="#0000ff" stroke-width="1.9"/><text transform="translate(375.55,657.30) rotate(-90)" y="3.12" font-size="8.8" text-anchor="middle" fill="#151515">LAT1</text><text transform="translate(383.65,657.30) rotate(-90)" y="2.17" font-size="6.1" text-anchor="middle" fill="#333">(SLC7A5)</text><rect x="390.5" y="637.0" width="21.7" height="40.6" rx="4.5" fill="#fff" stroke="#0000ff" stroke-width="1.9"/><text transform="translate(397.65,657.30) rotate(-90)" y="3.12" font-size="8.8" text-anchor="middle" fill="#151515">CD98hc</text><text transform="translate(405.75,657.30) rotate(-90)" y="2.17" font-size="6.1" text-anchor="middle" fill="#333">(SLC3A2)</text><rect x="434.7" y="637.0" width="21.2" height="40.6" rx="4.5" fill="#fff" stroke="#0000ff" stroke-width="1.9"/><text transform="translate(441.60,657.30) rotate(-90)" y="3.12" font-size="8.8" text-anchor="middle" fill="#151515">ASCT2</text><text transform="translate(449.70,657.30) rotate(-90)" y="2.17" font-size="6.1" text-anchor="middle" fill="#333">(SLC1A5)</text><path d="M389.20 678.00 L389.20 707.60" stroke="#111" stroke-width="1.1" fill="none"/><path d="M389.20 712.70 L385.50 704.20 L389.20 705.90 L392.90 704.20Z" fill="#111"/><path d="M445.60 678.50 L445.60 707.60" stroke="#111" stroke-width="1.1" fill="none"/><path d="M445.60 712.70 L441.90 704.20 L445.60 705.90 L449.30 704.20Z" fill="#111"/><path d="M425.8 718.3 C410 716 400 700 396 686" stroke="#111" stroke-width="1.1" fill="none"/><path d="M394.50 679.80 L401.45 685.94 L397.37 685.96 L394.74 689.07Z" fill="#000"/><text x="388.00" y="725.78" font-size="8.4" text-anchor="middle" font-weight="bold" fill="#222">BCAA</text><text x="389.20" y="733.68" font-size="8.4" text-anchor="middle" font-weight="bold" fill="#222">Methionine</text><text x="447.00" y="725.78" font-size="8.4" text-anchor="middle" font-weight="bold" fill="#222">Glutamine</text><path d="M388.90 744.30 L388.90 781.50" stroke="#111" stroke-width="1.1" fill="none"/><path d="M388.90 786.60 L385.20 778.10 L388.90 779.80 L392.60 778.10Z" fill="#111"/><circle cx="390.2" cy="853" r="55" fill="none" stroke="#111" stroke-width="1.1"/><rect x="366" y="792" width="47" height="12" fill="#fff"/><text x="389.90" y="800.88" font-size="8.4" text-anchor="middle" font-weight="bold" fill="#222">Methionine</text><path d="M435.90 825.90 L429.23 819.46 L433.30 819.62 L436.06 816.63Z" fill="#000"/><rect x="324.5" y="804.1" width="42.5" height="9.9" rx="0.8" fill="#fff" stroke="#0000ff" stroke-width="1.9"/><text x="345.70" y="812.03" font-size="8.4" text-anchor="middle" fill="#151515">MTR(MS)</text><path d="M367.2 806 L372 803" stroke="#111" stroke-width="1.1"/><rect x="433.5" y="847" width="20" height="12" fill="#fff"/><text x="443.80" y="856.38" font-size="8.4" text-anchor="middle" fill="#222">SAM</text><rect x="415" y="891" width="19" height="12" fill="#fff"/><text x="424.50" y="899.68" font-size="8.4" text-anchor="middle" fill="#222">SAH</text><text x="390.50" y="850.58" font-size="8.4" text-anchor="middle" font-style="italic" fill="#222">Methionine</text><text x="390.50" y="860.58" font-size="8.4" text-anchor="middle" font-style="italic" fill="#222">cycle</text><rect x="284" y="821" width="102" height="12" fill="#fff" fill-opacity="0.9"/><text x="335.70" y="829.78" font-size="8.4" text-anchor="middle" font-style="italic" fill="#222">Serine/glycine one carbon</text><rect x="316" y="877" width="56" height="12" fill="#fff"/><text x="343.90" y="885.78" font-size="8.4" text-anchor="middle" fill="#222">Homocysteine</text><rect x="361.6" y="902.0" width="28.3" height="10.1" rx="0.8" fill="#fff" stroke="#0000ff" stroke-width="1.9"/><text x="375.70" y="910.03" font-size="8.4" text-anchor="middle" fill="#151515">AHCY</text><path d="M343.5 890.3 V906" stroke="#111" stroke-width="1.1"/><path d="M343.50 916.30 L343.50 924.40" stroke="#111" stroke-width="1.1" fill="none"/><path d="M343.50 929.50 L339.80 921.00 L343.50 922.70 L347.20 921.00Z" fill="#111"/><rect x="332.4" y="906.1" width="21.9" height="10.0" rx="0.8" fill="#fff" stroke="#ff0000" stroke-width="1.9"/><text x="343.30" y="914.08" font-size="8.4" text-anchor="middle" fill="#151515">CTH</text><text x="343.60" y="937.48" font-size="8.4" text-anchor="middle" fill="#222">Cysteine</text><path d="M322.90 934.50 L304.90 934.50" stroke="#111" stroke-width="1.1" fill="none"/><path d="M299.80 934.50 L308.30 930.80 L306.60 934.50 L308.30 938.20Z" fill="#111"/><text x="273.90" y="937.48" font-size="8.4" text-anchor="middle" fill="#222">Glutathione</text><text x="273.70" y="898.18" font-size="8.4" text-anchor="middle" font-weight="bold" fill="#222">Serine</text><text x="273.90" y="909.68" font-size="8.4" text-anchor="middle" font-weight="bold" fill="#222">Glycine</text><path d="M274.00 912.10 L274.00 923.20" stroke="#111" stroke-width="1.1" fill="none"/><path d="M274.00 928.30 L270.30 919.80 L274.00 921.50 L277.70 919.80Z" fill="#111"/><path d="M224.90 934.60 L236.10 923.80 L236.10 929.40 L247.70 929.40 L247.70 939.80 L236.10 939.80 L236.10 945.40Z" fill="#fff" stroke="#111" stroke-width="1.1" stroke-linejoin="miter"/><text x="188.90" y="937.18" font-size="8.4" text-anchor="middle" font-style="italic" fill="#222">Redox balance</text><path d="M441.00 932.30 L430.05 921.30 L435.55 921.30 L435.55 909.60 L446.45 909.60 L446.45 921.30 L451.95 921.30Z" fill="#fff" stroke="#111" stroke-width="1.1" stroke-linejoin="miter"/><text x="441.50" y="941.48" font-size="8.4" text-anchor="middle" font-style="italic" fill="#222">Methylation reactions</text><circle cx="85.25" cy="794.45" r="33.8" fill="none" stroke="#111" stroke-width="1.2"/><path d="M58.10 773.60 L61.88 765.14 L63.12 769.02 L66.87 770.60Z" fill="#000"/><rect x="108" y="795" width="19" height="11" fill="#fff"/><text x="117.60" y="803.38" font-size="8.4" text-anchor="middle" fill="#222">OAA</text><text x="85.70" y="791.18" font-size="8.4" text-anchor="middle" font-style="italic" fill="#222">TCA</text><text x="85.70" y="801.98" font-size="8.4" text-anchor="middle" font-style="italic" fill="#222">cycle</text><path d="M185.50 840.20 L185.85 825.00 L189.60 828.74 L198.09 820.26 L205.44 827.61 L196.96 836.10 L200.70 839.85Z" fill="#fff" stroke="#111" stroke-width="1.1" stroke-linejoin="miter"/><text x="177.50" y="856.88" font-size="8.4" text-anchor="middle" font-style="italic" fill="#222">Purine and pyrimidine</text><text x="177.50" y="867.08" font-size="8.4" text-anchor="middle" font-style="italic" fill="#222">synthesis</text><rect x="55" y="889.8" width="15.8" height="9" fill="#fff" stroke="#0000ff" stroke-width="1.9"/><rect x="55" y="903.5" width="15.8" height="9.6" fill="#fff" stroke="#ff0000" stroke-width="1.9"/><text x="75.60" y="897.54" font-size="9.4" fill="#222">Induced by mutp53</text><text x="75.60" y="911.84" font-size="9.4" fill="#222">Repressed by mutp53</text><path d="M568.9 628.8 V765.2 H635.6" stroke="#000" stroke-width="1.4" fill="none"/><path d="M564.4 765.2 H568.9" stroke="#000" stroke-width="1.4"/><text x="561.70" y="768.96" font-size="10.6" text-anchor="end">0</text><path d="M564.4 708.6 H568.9" stroke="#000" stroke-width="1.4"/><text x="561.70" y="712.36" font-size="10.6" text-anchor="end">50</text><path d="M564.4 652.0 H568.9" stroke="#000" stroke-width="1.4"/><text x="561.70" y="655.76" font-size="10.6" text-anchor="end">100</text><path d="M583.8 765.2 V769.7" stroke="#000" stroke-width="1.4"/><circle cx="578.9" cy="652.1" r="3.0" fill="#0000cc"/><circle cx="583.3" cy="652.1" r="3.0" fill="#0000cc"/><circle cx="587.6999999999999" cy="652.1" r="3.0" fill="#0000cc"/><path d="M602.4 765.2 V769.7" stroke="#000" stroke-width="1.4"/><circle cx="597.5" cy="652.1" r="3.0" fill="#0000cc"/><circle cx="601.9" cy="652.1" r="3.0" fill="#0000cc"/><circle cx="606.3" cy="652.1" r="3.0" fill="#0000cc"/><path d="M621.2 765.2 V769.7" stroke="#000" stroke-width="1.4"/><circle cx="616.3000000000001" cy="652.1" r="3.0" fill="#0000cc"/><circle cx="620.7" cy="652.1" r="3.0" fill="#0000cc"/><circle cx="625.1" cy="652.1" r="3.0" fill="#0000cc"/><path d="M573.2 652.1 H637" stroke="#000" stroke-width="1.2" stroke-dasharray="1.2 3.9"/><path d="M583.5 679.8 V740 M580.0 679.8 H587.0 M580.0 740 H587.0" stroke="#111" stroke-width="1" fill="none"/><path d="M602.5 692.6 V757.4 M599.0 692.6 H606.0 M599.0 757.4 H606.0" stroke="#111" stroke-width="1" fill="none"/><path d="M621.5 676.2 V710.2 M618.0 676.2 H625.0 M618.0 710.2 H625.0" stroke="#111" stroke-width="1" fill="none"/><circle cx="583.3" cy="679.4" r="2.8" fill="#ff0000"/><circle cx="578.5" cy="703.9" r="2.8" fill="#ff0000"/><circle cx="587" cy="703.9" r="2.8" fill="#ff0000"/><circle cx="583.3" cy="752.1" r="2.8" fill="#ff0000"/><circle cx="602" cy="680.3" r="2.8" fill="#ff0000"/><circle cx="602" cy="723.2" r="2.8" fill="#ff0000"/><circle cx="598.5" cy="750.9" r="2.8" fill="#ff0000"/><circle cx="606" cy="746.1" r="2.8" fill="#ff0000"/><circle cx="621" cy="674.5" r="2.8" fill="#ff0000"/><circle cx="621" cy="688.3" r="2.8" fill="#ff0000"/><circle cx="621" cy="697.4" r="2.8" fill="#ff0000"/><circle cx="621" cy="715" r="2.8" fill="#ff0000"/><path d="M575.7 709.5 H591.3" stroke="#ff0000" stroke-width="1.3"/><path d="M594.7 725.1 H610.3" stroke="#ff0000" stroke-width="1.3"/><path d="M613.7 693.6 H629.3" stroke="#ff0000" stroke-width="1.3"/><text x="583.30" y="674.59" font-size="7" text-anchor="middle" fill="#333">p=0.03</text><text x="601.60" y="662.59" font-size="7" text-anchor="middle" fill="#333">p=0.02</text><text x="621.80" y="669.09" font-size="7" text-anchor="middle" fill="#333">p=0.01</text><circle cx="637" cy="622.5" r="2.9" fill="#0000cc"/><circle cx="637" cy="634.1" r="2.9" fill="#ff0000"/><text x="640.90" y="626.03" font-size="10.5">siCTL</text><text x="640.90" y="637.73" font-size="10.5">sip53</text><text transform="translate(530.2,708.6) rotate(-90)" font-size="10.6" text-anchor="middle" dominant-baseline="central">% S6RP pS<tspan font-size="5.4" dy="-4">240-244</tspan><tspan dy="4"> /S6RP</tspan></text><text transform="translate(543.80,709.00) rotate(-90)" y="3.76" font-size="10.6" text-anchor="middle">(band intensity)</text><text transform="translate(588.00,777.50) rotate(-45)" y="0.00" font-size="10.4" text-anchor="end">MDA-231</text><text transform="translate(607.00,777.50) rotate(-45)" y="0.00" font-size="10.4" text-anchor="end">MDA-468</text><text transform="translate(626.10,777.50) rotate(-45)" y="0.00" font-size="10.4" text-anchor="end">SUM-149</text>
</svg></body></html>
